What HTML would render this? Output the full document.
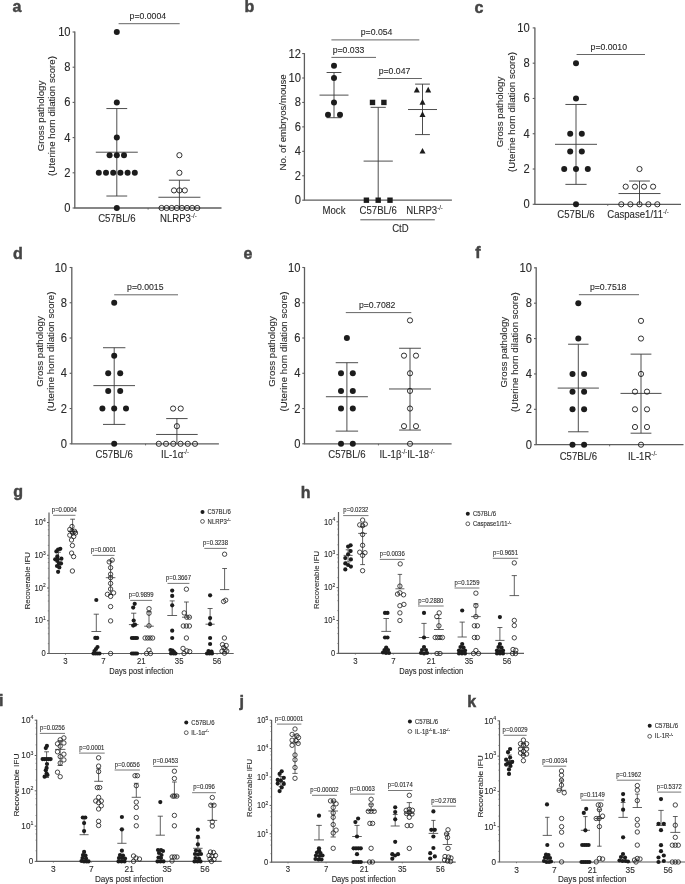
<!DOCTYPE html>
<html><head><meta charset="utf-8"><style>
html,body{margin:0;padding:0;background:#fff;}
body{width:685px;height:884px;overflow:hidden;}
svg{display:block;will-change:transform;}
svg{font-family:"Liberation Sans", sans-serif;} text{stroke:#2a2a2a;stroke-width:0.1px;} text[font-weight=bold]{stroke:#444;stroke-width:0.45px;}
</style></head><body>
<svg width="685" height="884" viewBox="0 0 685 884">
<rect width="685" height="884" fill="#fff"/>
<g fill="#2a2a2a">
<text x="12.6" y="12.3" font-size="16" font-weight="bold" fill="#444">a</text>
<line x1="74.8" y1="31.5" x2="74.8" y2="208" stroke="#5e5e5e" stroke-width="1.3"/>
<line x1="74.2" y1="208" x2="221.5" y2="208" stroke="#5e5e5e" stroke-width="1.3"/>
<line x1="72.6" y1="208" x2="74.8" y2="208" stroke="#5e5e5e" stroke-width="1.1"/>
<text x="0" y="0" font-size="11.2" text-anchor="end" transform="translate(70.6 212.03) scale(1 1.08)">0</text>
<line x1="72.6" y1="172.8" x2="74.8" y2="172.8" stroke="#5e5e5e" stroke-width="1.1"/>
<text x="0" y="0" font-size="11.2" text-anchor="end" transform="translate(70.6 176.83) scale(1 1.08)">2</text>
<line x1="72.6" y1="137.6" x2="74.8" y2="137.6" stroke="#5e5e5e" stroke-width="1.1"/>
<text x="0" y="0" font-size="11.2" text-anchor="end" transform="translate(70.6 141.63) scale(1 1.08)">4</text>
<line x1="72.6" y1="102.4" x2="74.8" y2="102.4" stroke="#5e5e5e" stroke-width="1.1"/>
<text x="0" y="0" font-size="11.2" text-anchor="end" transform="translate(70.6 106.43) scale(1 1.08)">6</text>
<line x1="72.6" y1="67.2" x2="74.8" y2="67.2" stroke="#5e5e5e" stroke-width="1.1"/>
<text x="0" y="0" font-size="11.2" text-anchor="end" transform="translate(70.6 71.23) scale(1 1.08)">8</text>
<line x1="72.6" y1="32" x2="74.8" y2="32" stroke="#5e5e5e" stroke-width="1.1"/>
<text x="0" y="0" font-size="11.2" text-anchor="end" transform="translate(70.6 36.03) scale(1 1.08)">10</text>
<text x="0" y="0" font-size="9" text-anchor="middle" transform="translate(44 116) scale(1 1.08) rotate(-90)">Gross pathology</text>
<text x="0" y="0" font-size="9" text-anchor="middle" transform="translate(55 116) scale(1 1.08) rotate(-90)">(Uterine horn dilation score)</text>
<line x1="116.8" y1="108.56" x2="116.8" y2="196.03" stroke="#3a3a3a" stroke-width="0.9"/>
<line x1="106.4" y1="108.56" x2="127.2" y2="108.56" stroke="#3a3a3a" stroke-width="0.9"/>
<line x1="106.4" y1="196.03" x2="127.2" y2="196.03" stroke="#3a3a3a" stroke-width="0.9"/>
<line x1="95.8" y1="152.21" x2="137.8" y2="152.21" stroke="#3a3a3a" stroke-width="0.9"/>
<line x1="179.4" y1="180.19" x2="179.4" y2="208" stroke="#3a3a3a" stroke-width="0.9"/>
<line x1="168.9" y1="180.19" x2="189.9" y2="180.19" stroke="#3a3a3a" stroke-width="0.9"/>
<line x1="158.4" y1="197.26" x2="200.4" y2="197.26" stroke="#3a3a3a" stroke-width="0.9"/>
<circle cx="116.8" cy="32" r="3" fill="#1c1c1c"/>
<circle cx="116.8" cy="102.4" r="3" fill="#1c1c1c"/>
<circle cx="116.8" cy="137.6" r="3" fill="#1c1c1c"/>
<circle cx="109.6" cy="155.2" r="3" fill="#1c1c1c"/>
<circle cx="116.8" cy="155.2" r="3" fill="#1c1c1c"/>
<circle cx="124" cy="155.2" r="3" fill="#1c1c1c"/>
<circle cx="98.8" cy="172.8" r="3" fill="#1c1c1c"/>
<circle cx="106" cy="172.8" r="3" fill="#1c1c1c"/>
<circle cx="113.2" cy="172.8" r="3" fill="#1c1c1c"/>
<circle cx="120.4" cy="172.8" r="3" fill="#1c1c1c"/>
<circle cx="127.6" cy="172.8" r="3" fill="#1c1c1c"/>
<circle cx="134.8" cy="172.8" r="3" fill="#1c1c1c"/>
<circle cx="116.8" cy="208" r="3" fill="#1c1c1c"/>
<circle cx="179.4" cy="155.2" r="2.6" fill="none" stroke="#1c1c1c" stroke-width="0.9"/>
<circle cx="179.4" cy="172.8" r="2.6" fill="none" stroke="#1c1c1c" stroke-width="0.9"/>
<circle cx="174" cy="190.4" r="2.6" fill="none" stroke="#1c1c1c" stroke-width="0.9"/>
<circle cx="179.4" cy="190.4" r="2.6" fill="none" stroke="#1c1c1c" stroke-width="0.9"/>
<circle cx="184.8" cy="190.4" r="2.6" fill="none" stroke="#1c1c1c" stroke-width="0.9"/>
<circle cx="161.55" cy="208" r="2.6" fill="none" stroke="#1c1c1c" stroke-width="0.9"/>
<circle cx="166.65" cy="208" r="2.6" fill="none" stroke="#1c1c1c" stroke-width="0.9"/>
<circle cx="171.75" cy="208" r="2.6" fill="none" stroke="#1c1c1c" stroke-width="0.9"/>
<circle cx="176.85" cy="208" r="2.6" fill="none" stroke="#1c1c1c" stroke-width="0.9"/>
<circle cx="181.95" cy="208" r="2.6" fill="none" stroke="#1c1c1c" stroke-width="0.9"/>
<circle cx="187.05" cy="208" r="2.6" fill="none" stroke="#1c1c1c" stroke-width="0.9"/>
<circle cx="192.15" cy="208" r="2.6" fill="none" stroke="#1c1c1c" stroke-width="0.9"/>
<circle cx="197.25" cy="208" r="2.6" fill="none" stroke="#1c1c1c" stroke-width="0.9"/>
<line x1="118.6" y1="23.7" x2="179.7" y2="23.7" stroke="#555" stroke-width="0.9"/>
<text x="0" y="0" font-size="8.7" text-anchor="middle" transform="translate(147.85 19.3) scale(1 1.08)">p=0.0004</text>
<text x="0" y="0" font-size="9.6" text-anchor="middle" transform="translate(116.8 221.5) scale(1 1.08)">C57BL/6</text>
<text x="0" y="0" font-size="9.6" transform="translate(160 221.5) scale(1 1.08)">NLRP3<tspan font-size="6.1" dy="-3.6">-/-</tspan></text>
<text x="244.6" y="12.1" font-size="16" font-weight="bold" fill="#444">b</text>
<line x1="304.4" y1="53.1" x2="304.4" y2="200.2" stroke="#5e5e5e" stroke-width="1.3"/>
<line x1="303.8" y1="200.2" x2="451.9" y2="200.2" stroke="#5e5e5e" stroke-width="1.3"/>
<line x1="302.2" y1="200.2" x2="304.4" y2="200.2" stroke="#5e5e5e" stroke-width="1.1"/>
<text x="0" y="0" font-size="11.2" text-anchor="end" transform="translate(300.9 204.23) scale(1 1.08)">0</text>
<line x1="302.2" y1="175.76" x2="304.4" y2="175.76" stroke="#5e5e5e" stroke-width="1.1"/>
<text x="0" y="0" font-size="11.2" text-anchor="end" transform="translate(300.9 179.79) scale(1 1.08)">2</text>
<line x1="302.2" y1="151.32" x2="304.4" y2="151.32" stroke="#5e5e5e" stroke-width="1.1"/>
<text x="0" y="0" font-size="11.2" text-anchor="end" transform="translate(300.9 155.35) scale(1 1.08)">4</text>
<line x1="302.2" y1="126.88" x2="304.4" y2="126.88" stroke="#5e5e5e" stroke-width="1.1"/>
<text x="0" y="0" font-size="11.2" text-anchor="end" transform="translate(300.9 130.91) scale(1 1.08)">6</text>
<line x1="302.2" y1="102.44" x2="304.4" y2="102.44" stroke="#5e5e5e" stroke-width="1.1"/>
<text x="0" y="0" font-size="11.2" text-anchor="end" transform="translate(300.9 106.47) scale(1 1.08)">8</text>
<line x1="302.2" y1="78" x2="304.4" y2="78" stroke="#5e5e5e" stroke-width="1.1"/>
<text x="0" y="0" font-size="11.2" text-anchor="end" transform="translate(300.9 82.03) scale(1 1.08)">10</text>
<line x1="302.2" y1="53.56" x2="304.4" y2="53.56" stroke="#5e5e5e" stroke-width="1.1"/>
<text x="0" y="0" font-size="11.2" text-anchor="end" transform="translate(300.9 57.59) scale(1 1.08)">12</text>
<text x="0" y="0" font-size="8.85" text-anchor="middle" transform="translate(286 122.4) scale(1 1.08) rotate(-90)">No. of embryos/mouse</text>
<line x1="334" y1="72.5" x2="334" y2="117.71" stroke="#3a3a3a" stroke-width="0.9"/>
<line x1="326.6" y1="72.5" x2="341.4" y2="72.5" stroke="#3a3a3a" stroke-width="0.9"/>
<line x1="326.6" y1="117.71" x2="341.4" y2="117.71" stroke="#3a3a3a" stroke-width="0.9"/>
<line x1="319.5" y1="95.11" x2="348.5" y2="95.11" stroke="#3a3a3a" stroke-width="0.9"/>
<line x1="378.2" y1="107.33" x2="378.2" y2="200.2" stroke="#3a3a3a" stroke-width="0.9"/>
<line x1="370.6" y1="107.33" x2="385.8" y2="107.33" stroke="#3a3a3a" stroke-width="0.9"/>
<line x1="363.6" y1="161.1" x2="392.8" y2="161.1" stroke="#3a3a3a" stroke-width="0.9"/>
<line x1="422.5" y1="84.11" x2="422.5" y2="134.58" stroke="#3a3a3a" stroke-width="0.9"/>
<line x1="415.1" y1="84.11" x2="429.9" y2="84.11" stroke="#3a3a3a" stroke-width="0.9"/>
<line x1="415.1" y1="134.58" x2="429.9" y2="134.58" stroke="#3a3a3a" stroke-width="0.9"/>
<line x1="408" y1="109.53" x2="437" y2="109.53" stroke="#3a3a3a" stroke-width="0.9"/>
<circle cx="334" cy="65.78" r="3" fill="#1c1c1c"/>
<circle cx="334" cy="78" r="3" fill="#1c1c1c"/>
<circle cx="334" cy="102.44" r="3" fill="#1c1c1c"/>
<circle cx="328" cy="114.66" r="3" fill="#1c1c1c"/>
<circle cx="340" cy="114.66" r="3" fill="#1c1c1c"/>
<rect x="369.8" y="99.74" width="5.4" height="5.4" fill="#1c1c1c"/>
<rect x="381.2" y="99.74" width="5.4" height="5.4" fill="#1c1c1c"/>
<rect x="363.7" y="197.5" width="5.4" height="5.4" fill="#1c1c1c"/>
<rect x="375.5" y="197.5" width="5.4" height="5.4" fill="#1c1c1c"/>
<rect x="387.3" y="197.5" width="5.4" height="5.4" fill="#1c1c1c"/>
<polygon points="416.8,86.8 413.8,92.5 419.8,92.5" fill="#1c1c1c"/>
<polygon points="428.2,86.8 425.2,92.5 431.2,92.5" fill="#1c1c1c"/>
<polygon points="422.5,99.02 419.5,104.72 425.5,104.72" fill="#1c1c1c"/>
<polygon points="422.5,111.24 419.5,116.94 425.5,116.94" fill="#1c1c1c"/>
<polygon points="422.5,147.9 419.5,153.6 425.5,153.6" fill="#1c1c1c"/>
<line x1="331.4" y1="39.9" x2="419.3" y2="39.9" stroke="#555" stroke-width="0.9"/>
<text x="0" y="0" font-size="8.7" text-anchor="middle" transform="translate(376.6 35) scale(1 1.08)">p=0.054</text>
<line x1="331.4" y1="57.4" x2="376" y2="57.4" stroke="#555" stroke-width="0.9"/>
<text x="0" y="0" font-size="8.7" text-anchor="middle" transform="translate(348.5 52.6) scale(1 1.08)">p=0.033</text>
<line x1="377.5" y1="78.5" x2="421.9" y2="78.5" stroke="#555" stroke-width="0.9"/>
<text x="0" y="0" font-size="8.7" text-anchor="middle" transform="translate(394.5 73.7) scale(1 1.08)">p=0.047</text>
<text x="0" y="0" font-size="9.6" text-anchor="middle" transform="translate(334 214.3) scale(1 1.08)">Mock</text>
<text x="0" y="0" font-size="9.6" text-anchor="middle" transform="translate(378.2 214.3) scale(1 1.08)">C57BL/6</text>
<text x="0" y="0" font-size="9.6" transform="translate(406.2 214.3) scale(1 1.08)">NLRP3<tspan font-size="6.1" dy="-3.6">-/-</tspan></text>
<line x1="360.3" y1="219.8" x2="434.8" y2="219.8" stroke="#444" stroke-width="0.9"/>
<text x="0" y="0" font-size="9.6" text-anchor="middle" transform="translate(400.4 232.2) scale(1 1.08)">CtD</text>
<text x="474.4" y="12.5" font-size="16" font-weight="bold" fill="#444">c</text>
<line x1="534.9" y1="27.4" x2="534.9" y2="204.3" stroke="#5e5e5e" stroke-width="1.3"/>
<line x1="534.3" y1="204.3" x2="681" y2="204.3" stroke="#5e5e5e" stroke-width="1.3"/>
<line x1="532.7" y1="204.3" x2="534.9" y2="204.3" stroke="#5e5e5e" stroke-width="1.1"/>
<text x="0" y="0" font-size="11.2" text-anchor="end" transform="translate(529.8 208.33) scale(1 1.08)">0</text>
<line x1="532.7" y1="169.02" x2="534.9" y2="169.02" stroke="#5e5e5e" stroke-width="1.1"/>
<text x="0" y="0" font-size="11.2" text-anchor="end" transform="translate(529.8 173.05) scale(1 1.08)">2</text>
<line x1="532.7" y1="133.74" x2="534.9" y2="133.74" stroke="#5e5e5e" stroke-width="1.1"/>
<text x="0" y="0" font-size="11.2" text-anchor="end" transform="translate(529.8 137.77) scale(1 1.08)">4</text>
<line x1="532.7" y1="98.46" x2="534.9" y2="98.46" stroke="#5e5e5e" stroke-width="1.1"/>
<text x="0" y="0" font-size="11.2" text-anchor="end" transform="translate(529.8 102.49) scale(1 1.08)">6</text>
<line x1="532.7" y1="63.18" x2="534.9" y2="63.18" stroke="#5e5e5e" stroke-width="1.1"/>
<text x="0" y="0" font-size="11.2" text-anchor="end" transform="translate(529.8 67.21) scale(1 1.08)">8</text>
<line x1="532.7" y1="27.9" x2="534.9" y2="27.9" stroke="#5e5e5e" stroke-width="1.1"/>
<text x="0" y="0" font-size="11.2" text-anchor="end" transform="translate(529.8 31.93) scale(1 1.08)">10</text>
<text x="0" y="0" font-size="9" text-anchor="middle" transform="translate(503 112) scale(1 1.08) rotate(-90)">Gross pathology</text>
<text x="0" y="0" font-size="9" text-anchor="middle" transform="translate(515 112) scale(1 1.08) rotate(-90)">(Uterine horn dilation score)</text>
<line x1="576" y1="104.46" x2="576" y2="184.37" stroke="#3a3a3a" stroke-width="0.9"/>
<line x1="565.4" y1="104.46" x2="586.6" y2="104.46" stroke="#3a3a3a" stroke-width="0.9"/>
<line x1="565.4" y1="184.37" x2="586.6" y2="184.37" stroke="#3a3a3a" stroke-width="0.9"/>
<line x1="555" y1="144.32" x2="597" y2="144.32" stroke="#3a3a3a" stroke-width="0.9"/>
<line x1="639.5" y1="181.02" x2="639.5" y2="204.3" stroke="#3a3a3a" stroke-width="0.9"/>
<line x1="629.1" y1="181.02" x2="649.9" y2="181.02" stroke="#3a3a3a" stroke-width="0.9"/>
<line x1="618.5" y1="193.54" x2="660.5" y2="193.54" stroke="#3a3a3a" stroke-width="0.9"/>
<circle cx="576" cy="63.18" r="3" fill="#1c1c1c"/>
<circle cx="576" cy="98.46" r="3" fill="#1c1c1c"/>
<circle cx="570.2" cy="133.74" r="3" fill="#1c1c1c"/>
<circle cx="581.8" cy="133.74" r="3" fill="#1c1c1c"/>
<circle cx="570.2" cy="151.38" r="3" fill="#1c1c1c"/>
<circle cx="581.8" cy="151.38" r="3" fill="#1c1c1c"/>
<circle cx="564.2" cy="169.02" r="3" fill="#1c1c1c"/>
<circle cx="576" cy="169.02" r="3" fill="#1c1c1c"/>
<circle cx="587.8" cy="169.02" r="3" fill="#1c1c1c"/>
<circle cx="576" cy="204.3" r="3" fill="#1c1c1c"/>
<circle cx="639.5" cy="169.02" r="2.6" fill="none" stroke="#1c1c1c" stroke-width="0.9"/>
<circle cx="625.7" cy="186.66" r="2.6" fill="none" stroke="#1c1c1c" stroke-width="0.9"/>
<circle cx="635" cy="186.66" r="2.6" fill="none" stroke="#1c1c1c" stroke-width="0.9"/>
<circle cx="644" cy="186.66" r="2.6" fill="none" stroke="#1c1c1c" stroke-width="0.9"/>
<circle cx="653.1" cy="186.66" r="2.6" fill="none" stroke="#1c1c1c" stroke-width="0.9"/>
<circle cx="621.3" cy="204.3" r="2.6" fill="none" stroke="#1c1c1c" stroke-width="0.9"/>
<circle cx="630.4" cy="204.3" r="2.6" fill="none" stroke="#1c1c1c" stroke-width="0.9"/>
<circle cx="639.5" cy="204.3" r="2.6" fill="none" stroke="#1c1c1c" stroke-width="0.9"/>
<circle cx="648.4" cy="204.3" r="2.6" fill="none" stroke="#1c1c1c" stroke-width="0.9"/>
<circle cx="657.3" cy="204.3" r="2.6" fill="none" stroke="#1c1c1c" stroke-width="0.9"/>
<line x1="576.6" y1="54.5" x2="645" y2="54.5" stroke="#555" stroke-width="0.9"/>
<text x="0" y="0" font-size="8.7" text-anchor="middle" transform="translate(608.8 50.1) scale(1 1.08)">p=0.0010</text>
<text x="0" y="0" font-size="9.6" text-anchor="middle" transform="translate(576 217.5) scale(1 1.08)">C57BL/6</text>
<text x="0" y="0" font-size="9.6" transform="translate(607.2 217.5) scale(1 1.08)">Caspase1/11<tspan font-size="6.1" dy="-3.6">-/-</tspan></text>
<text x="12.9" y="258.5" font-size="16" font-weight="bold" fill="#444">d</text>
<line x1="71.8" y1="267.1" x2="71.8" y2="443.8" stroke="#5e5e5e" stroke-width="1.3"/>
<line x1="71.2" y1="443.8" x2="218.9" y2="443.8" stroke="#5e5e5e" stroke-width="1.3"/>
<line x1="69.6" y1="443.8" x2="71.8" y2="443.8" stroke="#5e5e5e" stroke-width="1.1"/>
<text x="0" y="0" font-size="11.2" text-anchor="end" transform="translate(67.1 447.83) scale(1 1.08)">0</text>
<line x1="69.6" y1="408.54" x2="71.8" y2="408.54" stroke="#5e5e5e" stroke-width="1.1"/>
<text x="0" y="0" font-size="11.2" text-anchor="end" transform="translate(67.1 412.57) scale(1 1.08)">2</text>
<line x1="69.6" y1="373.28" x2="71.8" y2="373.28" stroke="#5e5e5e" stroke-width="1.1"/>
<text x="0" y="0" font-size="11.2" text-anchor="end" transform="translate(67.1 377.31) scale(1 1.08)">4</text>
<line x1="69.6" y1="338.02" x2="71.8" y2="338.02" stroke="#5e5e5e" stroke-width="1.1"/>
<text x="0" y="0" font-size="11.2" text-anchor="end" transform="translate(67.1 342.05) scale(1 1.08)">6</text>
<line x1="69.6" y1="302.76" x2="71.8" y2="302.76" stroke="#5e5e5e" stroke-width="1.1"/>
<text x="0" y="0" font-size="11.2" text-anchor="end" transform="translate(67.1 306.79) scale(1 1.08)">8</text>
<line x1="69.6" y1="267.5" x2="71.8" y2="267.5" stroke="#5e5e5e" stroke-width="1.1"/>
<text x="0" y="0" font-size="11.2" text-anchor="end" transform="translate(67.1 271.53) scale(1 1.08)">10</text>
<text x="0" y="0" font-size="9" text-anchor="middle" transform="translate(42.6 351.5) scale(1 1.08) rotate(-90)">Gross pathology</text>
<text x="0" y="0" font-size="9" text-anchor="middle" transform="translate(54.3 351.5) scale(1 1.08) rotate(-90)">(Uterine horn dilation score)</text>
<line x1="114.2" y1="347.72" x2="114.2" y2="424.41" stroke="#3a3a3a" stroke-width="0.9"/>
<line x1="103" y1="347.72" x2="125.4" y2="347.72" stroke="#3a3a3a" stroke-width="0.9"/>
<line x1="103" y1="424.41" x2="125.4" y2="424.41" stroke="#3a3a3a" stroke-width="0.9"/>
<line x1="93.4" y1="385.62" x2="135" y2="385.62" stroke="#3a3a3a" stroke-width="0.9"/>
<line x1="176.9" y1="418.59" x2="176.9" y2="443.8" stroke="#3a3a3a" stroke-width="0.9"/>
<line x1="166.2" y1="418.59" x2="187.6" y2="418.59" stroke="#3a3a3a" stroke-width="0.9"/>
<line x1="156.1" y1="434.46" x2="197.7" y2="434.46" stroke="#3a3a3a" stroke-width="0.9"/>
<circle cx="114.2" cy="302.76" r="3" fill="#1c1c1c"/>
<circle cx="114.2" cy="355.65" r="3" fill="#1c1c1c"/>
<circle cx="108.2" cy="373.28" r="3" fill="#1c1c1c"/>
<circle cx="120.2" cy="373.28" r="3" fill="#1c1c1c"/>
<circle cx="108.2" cy="390.91" r="3" fill="#1c1c1c"/>
<circle cx="120.2" cy="390.91" r="3" fill="#1c1c1c"/>
<circle cx="102.4" cy="408.54" r="3" fill="#1c1c1c"/>
<circle cx="114.2" cy="408.54" r="3" fill="#1c1c1c"/>
<circle cx="126" cy="408.54" r="3" fill="#1c1c1c"/>
<circle cx="114.2" cy="443.8" r="3" fill="#1c1c1c"/>
<circle cx="173.1" cy="408.54" r="2.6" fill="none" stroke="#1c1c1c" stroke-width="0.9"/>
<circle cx="180.7" cy="408.54" r="2.6" fill="none" stroke="#1c1c1c" stroke-width="0.9"/>
<circle cx="176.9" cy="426.17" r="2.6" fill="none" stroke="#1c1c1c" stroke-width="0.9"/>
<circle cx="158.8" cy="443.8" r="2.6" fill="none" stroke="#1c1c1c" stroke-width="0.9"/>
<circle cx="166.04" cy="443.8" r="2.6" fill="none" stroke="#1c1c1c" stroke-width="0.9"/>
<circle cx="173.28" cy="443.8" r="2.6" fill="none" stroke="#1c1c1c" stroke-width="0.9"/>
<circle cx="180.52" cy="443.8" r="2.6" fill="none" stroke="#1c1c1c" stroke-width="0.9"/>
<circle cx="187.76" cy="443.8" r="2.6" fill="none" stroke="#1c1c1c" stroke-width="0.9"/>
<circle cx="195" cy="443.8" r="2.6" fill="none" stroke="#1c1c1c" stroke-width="0.9"/>
<line x1="114.2" y1="294.8" x2="178" y2="294.8" stroke="#555" stroke-width="0.9"/>
<text x="0" y="0" font-size="8.7" text-anchor="middle" transform="translate(145.3 290.4) scale(1 1.08)">p=0.0015</text>
<text x="0" y="0" font-size="9.6" text-anchor="middle" transform="translate(114.2 458.3) scale(1 1.08)">C57BL/6</text>
<text x="0" y="0" font-size="9.6" transform="translate(161.1 458.3) scale(1 1.08)">IL-1α<tspan font-size="6.1" dy="-3.6">-/-</tspan></text>
<text x="243.6" y="258.5" font-size="16" font-weight="bold" fill="#444">e</text>
<line x1="304.5" y1="267.1" x2="304.5" y2="443.8" stroke="#5e5e5e" stroke-width="1.3"/>
<line x1="303.9" y1="443.8" x2="451.6" y2="443.8" stroke="#5e5e5e" stroke-width="1.3"/>
<line x1="302.3" y1="443.8" x2="304.5" y2="443.8" stroke="#5e5e5e" stroke-width="1.1"/>
<text x="0" y="0" font-size="11.2" text-anchor="end" transform="translate(300.5 447.83) scale(1 1.08)">0</text>
<line x1="302.3" y1="408.54" x2="304.5" y2="408.54" stroke="#5e5e5e" stroke-width="1.1"/>
<text x="0" y="0" font-size="11.2" text-anchor="end" transform="translate(300.5 412.57) scale(1 1.08)">2</text>
<line x1="302.3" y1="373.28" x2="304.5" y2="373.28" stroke="#5e5e5e" stroke-width="1.1"/>
<text x="0" y="0" font-size="11.2" text-anchor="end" transform="translate(300.5 377.31) scale(1 1.08)">4</text>
<line x1="302.3" y1="338.02" x2="304.5" y2="338.02" stroke="#5e5e5e" stroke-width="1.1"/>
<text x="0" y="0" font-size="11.2" text-anchor="end" transform="translate(300.5 342.05) scale(1 1.08)">6</text>
<line x1="302.3" y1="302.76" x2="304.5" y2="302.76" stroke="#5e5e5e" stroke-width="1.1"/>
<text x="0" y="0" font-size="11.2" text-anchor="end" transform="translate(300.5 306.79) scale(1 1.08)">8</text>
<line x1="302.3" y1="267.5" x2="304.5" y2="267.5" stroke="#5e5e5e" stroke-width="1.1"/>
<text x="0" y="0" font-size="11.2" text-anchor="end" transform="translate(300.5 271.53) scale(1 1.08)">10</text>
<text x="0" y="0" font-size="9" text-anchor="middle" transform="translate(275 351.5) scale(1 1.08) rotate(-90)">Gross pathology</text>
<text x="0" y="0" font-size="9" text-anchor="middle" transform="translate(286.8 351.5) scale(1 1.08) rotate(-90)">(Uterine horn dilation score)</text>
<line x1="346.9" y1="362.7" x2="346.9" y2="431.11" stroke="#3a3a3a" stroke-width="0.9"/>
<line x1="335.7" y1="362.7" x2="358.1" y2="362.7" stroke="#3a3a3a" stroke-width="0.9"/>
<line x1="335.7" y1="431.11" x2="358.1" y2="431.11" stroke="#3a3a3a" stroke-width="0.9"/>
<line x1="325.9" y1="396.73" x2="367.9" y2="396.73" stroke="#3a3a3a" stroke-width="0.9"/>
<line x1="410" y1="348.25" x2="410" y2="430.05" stroke="#3a3a3a" stroke-width="0.9"/>
<line x1="399.1" y1="348.25" x2="420.9" y2="348.25" stroke="#3a3a3a" stroke-width="0.9"/>
<line x1="399.1" y1="430.05" x2="420.9" y2="430.05" stroke="#3a3a3a" stroke-width="0.9"/>
<line x1="389" y1="388.97" x2="431" y2="388.97" stroke="#3a3a3a" stroke-width="0.9"/>
<circle cx="346.9" cy="338.02" r="3" fill="#1c1c1c"/>
<circle cx="341" cy="373.28" r="3" fill="#1c1c1c"/>
<circle cx="352.8" cy="373.28" r="3" fill="#1c1c1c"/>
<circle cx="341" cy="390.91" r="3" fill="#1c1c1c"/>
<circle cx="352.8" cy="390.91" r="3" fill="#1c1c1c"/>
<circle cx="341" cy="408.54" r="3" fill="#1c1c1c"/>
<circle cx="352.8" cy="408.54" r="3" fill="#1c1c1c"/>
<circle cx="341" cy="443.8" r="3" fill="#1c1c1c"/>
<circle cx="352.8" cy="443.8" r="3" fill="#1c1c1c"/>
<circle cx="410" cy="320.39" r="2.6" fill="none" stroke="#1c1c1c" stroke-width="0.9"/>
<circle cx="404" cy="355.65" r="2.6" fill="none" stroke="#1c1c1c" stroke-width="0.9"/>
<circle cx="416" cy="355.65" r="2.6" fill="none" stroke="#1c1c1c" stroke-width="0.9"/>
<circle cx="410" cy="373.28" r="2.6" fill="none" stroke="#1c1c1c" stroke-width="0.9"/>
<circle cx="410" cy="390.91" r="2.6" fill="none" stroke="#1c1c1c" stroke-width="0.9"/>
<circle cx="410" cy="408.54" r="2.6" fill="none" stroke="#1c1c1c" stroke-width="0.9"/>
<circle cx="404" cy="426.17" r="2.6" fill="none" stroke="#1c1c1c" stroke-width="0.9"/>
<circle cx="416" cy="426.17" r="2.6" fill="none" stroke="#1c1c1c" stroke-width="0.9"/>
<circle cx="410" cy="443.8" r="2.6" fill="none" stroke="#1c1c1c" stroke-width="0.9"/>
<line x1="345.8" y1="312.6" x2="411.3" y2="312.6" stroke="#555" stroke-width="0.9"/>
<text x="0" y="0" font-size="8.7" text-anchor="middle" transform="translate(377.15 308.2) scale(1 1.08)">p=0.7082</text>
<text x="0" y="0" font-size="9.6" text-anchor="middle" transform="translate(346.9 458.3) scale(1 1.08)">C57BL/6</text>
<text x="0" y="0" font-size="9.6" transform="translate(379.4 458.3) scale(1 1.08)">IL-1β<tspan font-size="6.1" dy="-3.6">-/-</tspan><tspan dy="3.6">IL-18</tspan><tspan font-size="6.1" dy="-3.6">-/-</tspan></text>
<text x="475.2" y="257.9" font-size="16" font-weight="bold" fill="#444">f</text>
<line x1="536.2" y1="267.3" x2="536.2" y2="444.7" stroke="#5e5e5e" stroke-width="1.3"/>
<line x1="535.6" y1="444.7" x2="683.5" y2="444.7" stroke="#5e5e5e" stroke-width="1.3"/>
<line x1="534" y1="444.7" x2="536.2" y2="444.7" stroke="#5e5e5e" stroke-width="1.1"/>
<text x="0" y="0" font-size="11.2" text-anchor="end" transform="translate(532 448.73) scale(1 1.08)">0</text>
<line x1="534" y1="409.32" x2="536.2" y2="409.32" stroke="#5e5e5e" stroke-width="1.1"/>
<text x="0" y="0" font-size="11.2" text-anchor="end" transform="translate(532 413.35) scale(1 1.08)">2</text>
<line x1="534" y1="373.94" x2="536.2" y2="373.94" stroke="#5e5e5e" stroke-width="1.1"/>
<text x="0" y="0" font-size="11.2" text-anchor="end" transform="translate(532 377.97) scale(1 1.08)">4</text>
<line x1="534" y1="338.56" x2="536.2" y2="338.56" stroke="#5e5e5e" stroke-width="1.1"/>
<text x="0" y="0" font-size="11.2" text-anchor="end" transform="translate(532 342.59) scale(1 1.08)">6</text>
<line x1="534" y1="303.18" x2="536.2" y2="303.18" stroke="#5e5e5e" stroke-width="1.1"/>
<text x="0" y="0" font-size="11.2" text-anchor="end" transform="translate(532 307.21) scale(1 1.08)">8</text>
<line x1="534" y1="267.8" x2="536.2" y2="267.8" stroke="#5e5e5e" stroke-width="1.1"/>
<text x="0" y="0" font-size="11.2" text-anchor="end" transform="translate(532 271.83) scale(1 1.08)">10</text>
<text x="0" y="0" font-size="9" text-anchor="middle" transform="translate(506.5 352.2) scale(1 1.08) rotate(-90)">Gross pathology</text>
<text x="0" y="0" font-size="9" text-anchor="middle" transform="translate(518.3 352.2) scale(1 1.08) rotate(-90)">(Uterine horn dilation score)</text>
<line x1="578.3" y1="344.22" x2="578.3" y2="431.79" stroke="#3a3a3a" stroke-width="0.9"/>
<line x1="568.1" y1="344.22" x2="588.5" y2="344.22" stroke="#3a3a3a" stroke-width="0.9"/>
<line x1="568.1" y1="431.79" x2="588.5" y2="431.79" stroke="#3a3a3a" stroke-width="0.9"/>
<line x1="557.7" y1="388.09" x2="598.9" y2="388.09" stroke="#3a3a3a" stroke-width="0.9"/>
<line x1="641" y1="354.13" x2="641" y2="433.2" stroke="#3a3a3a" stroke-width="0.9"/>
<line x1="630.6" y1="354.13" x2="651.4" y2="354.13" stroke="#3a3a3a" stroke-width="0.9"/>
<line x1="630.6" y1="433.2" x2="651.4" y2="433.2" stroke="#3a3a3a" stroke-width="0.9"/>
<line x1="620.5" y1="393.4" x2="661.5" y2="393.4" stroke="#3a3a3a" stroke-width="0.9"/>
<circle cx="578.3" cy="303.18" r="3" fill="#1c1c1c"/>
<circle cx="578.3" cy="338.56" r="3" fill="#1c1c1c"/>
<circle cx="572.5" cy="373.94" r="3" fill="#1c1c1c"/>
<circle cx="584.1" cy="373.94" r="3" fill="#1c1c1c"/>
<circle cx="572.5" cy="391.63" r="3" fill="#1c1c1c"/>
<circle cx="584.1" cy="391.63" r="3" fill="#1c1c1c"/>
<circle cx="572.5" cy="409.32" r="3" fill="#1c1c1c"/>
<circle cx="584.1" cy="409.32" r="3" fill="#1c1c1c"/>
<circle cx="572.5" cy="444.7" r="3" fill="#1c1c1c"/>
<circle cx="584.1" cy="444.7" r="3" fill="#1c1c1c"/>
<circle cx="641" cy="320.87" r="2.6" fill="none" stroke="#1c1c1c" stroke-width="0.9"/>
<circle cx="641" cy="338.56" r="2.6" fill="none" stroke="#1c1c1c" stroke-width="0.9"/>
<circle cx="641" cy="373.94" r="2.6" fill="none" stroke="#1c1c1c" stroke-width="0.9"/>
<circle cx="635" cy="391.63" r="2.6" fill="none" stroke="#1c1c1c" stroke-width="0.9"/>
<circle cx="647" cy="391.63" r="2.6" fill="none" stroke="#1c1c1c" stroke-width="0.9"/>
<circle cx="635" cy="409.32" r="2.6" fill="none" stroke="#1c1c1c" stroke-width="0.9"/>
<circle cx="647" cy="409.32" r="2.6" fill="none" stroke="#1c1c1c" stroke-width="0.9"/>
<circle cx="635" cy="427.01" r="2.6" fill="none" stroke="#1c1c1c" stroke-width="0.9"/>
<circle cx="647" cy="427.01" r="2.6" fill="none" stroke="#1c1c1c" stroke-width="0.9"/>
<circle cx="641" cy="444.7" r="2.6" fill="none" stroke="#1c1c1c" stroke-width="0.9"/>
<line x1="578.9" y1="294.7" x2="639" y2="294.7" stroke="#555" stroke-width="0.9"/>
<text x="0" y="0" font-size="8.7" text-anchor="middle" transform="translate(608.15 290.3) scale(1 1.08)">p=0.7518</text>
<text x="0" y="0" font-size="9.6" text-anchor="middle" transform="translate(578.3 459.6) scale(1 1.08)">C57BL/6</text>
<text x="0" y="0" font-size="9.6" text-anchor="middle" transform="translate(642.5 459.6) scale(1 1.08)">IL-1R<tspan font-size="6.1" dy="-3.6">-/-</tspan></text>
<line x1="148.1" y1="208" x2="148.1" y2="209.6" stroke="#5e5e5e" stroke-width="0.9"/>
<line x1="607.75" y1="204.3" x2="607.75" y2="205.9" stroke="#5e5e5e" stroke-width="0.9"/>
<line x1="145.55" y1="443.8" x2="145.55" y2="445.4" stroke="#5e5e5e" stroke-width="0.9"/>
<line x1="378.45" y1="443.8" x2="378.45" y2="445.4" stroke="#5e5e5e" stroke-width="0.9"/>
<line x1="609.65" y1="444.7" x2="609.65" y2="446.3" stroke="#5e5e5e" stroke-width="0.9"/>
<line x1="49" y1="512.5" x2="49" y2="653.5" stroke="#5e5e5e" stroke-width="1.2"/>
<line x1="48.4" y1="653.5" x2="233.7" y2="653.5" stroke="#5e5e5e" stroke-width="1.2"/>
<line x1="47" y1="653.5" x2="49" y2="653.5" stroke="#5e5e5e" stroke-width="1"/>
<text x="0" y="0" font-size="7.6" text-anchor="end" transform="translate(45.6 656.24) scale(1 1.08)">0</text>
<line x1="47" y1="620.75" x2="49" y2="620.75" stroke="#5e5e5e" stroke-width="1"/>
<text x="0" y="0" font-size="7.6" text-anchor="end" transform="translate(45.6 623.49) scale(1 1.08)">10<tspan font-size="4.86" dy="-3.19">1</tspan></text>
<line x1="47" y1="588" x2="49" y2="588" stroke="#5e5e5e" stroke-width="1"/>
<text x="0" y="0" font-size="7.6" text-anchor="end" transform="translate(45.6 590.74) scale(1 1.08)">10<tspan font-size="4.86" dy="-3.19">2</tspan></text>
<line x1="47" y1="555.25" x2="49" y2="555.25" stroke="#5e5e5e" stroke-width="1"/>
<text x="0" y="0" font-size="7.6" text-anchor="end" transform="translate(45.6 557.99) scale(1 1.08)">10<tspan font-size="4.86" dy="-3.19">3</tspan></text>
<line x1="47" y1="522.5" x2="49" y2="522.5" stroke="#5e5e5e" stroke-width="1"/>
<text x="0" y="0" font-size="7.6" text-anchor="end" transform="translate(45.6 525.24) scale(1 1.08)">10<tspan font-size="4.86" dy="-3.19">4</tspan></text>
<line x1="47.8" y1="643.64" x2="49" y2="643.64" stroke="#5e5e5e" stroke-width="0.6"/>
<line x1="47.8" y1="633.78" x2="49" y2="633.78" stroke="#5e5e5e" stroke-width="0.6"/>
<line x1="47.8" y1="628.02" x2="49" y2="628.02" stroke="#5e5e5e" stroke-width="0.6"/>
<line x1="47.8" y1="623.92" x2="49" y2="623.92" stroke="#5e5e5e" stroke-width="0.6"/>
<line x1="47.8" y1="610.89" x2="49" y2="610.89" stroke="#5e5e5e" stroke-width="0.6"/>
<line x1="47.8" y1="601.03" x2="49" y2="601.03" stroke="#5e5e5e" stroke-width="0.6"/>
<line x1="47.8" y1="595.27" x2="49" y2="595.27" stroke="#5e5e5e" stroke-width="0.6"/>
<line x1="47.8" y1="591.17" x2="49" y2="591.17" stroke="#5e5e5e" stroke-width="0.6"/>
<line x1="47.8" y1="578.14" x2="49" y2="578.14" stroke="#5e5e5e" stroke-width="0.6"/>
<line x1="47.8" y1="568.28" x2="49" y2="568.28" stroke="#5e5e5e" stroke-width="0.6"/>
<line x1="47.8" y1="562.52" x2="49" y2="562.52" stroke="#5e5e5e" stroke-width="0.6"/>
<line x1="47.8" y1="558.42" x2="49" y2="558.42" stroke="#5e5e5e" stroke-width="0.6"/>
<line x1="47.8" y1="545.39" x2="49" y2="545.39" stroke="#5e5e5e" stroke-width="0.6"/>
<line x1="47.8" y1="535.53" x2="49" y2="535.53" stroke="#5e5e5e" stroke-width="0.6"/>
<line x1="47.8" y1="529.77" x2="49" y2="529.77" stroke="#5e5e5e" stroke-width="0.6"/>
<line x1="47.8" y1="525.67" x2="49" y2="525.67" stroke="#5e5e5e" stroke-width="0.6"/>
<line x1="65.5" y1="653.5" x2="65.5" y2="654.7" stroke="#5e5e5e" stroke-width="0.8"/>
<text x="0" y="0" font-size="7.8" text-anchor="middle" transform="translate(65.5 664.3) scale(1 1.08)">3</text>
<line x1="103.4" y1="653.5" x2="103.4" y2="654.7" stroke="#5e5e5e" stroke-width="0.8"/>
<text x="0" y="0" font-size="7.8" text-anchor="middle" transform="translate(103.4 664.3) scale(1 1.08)">7</text>
<line x1="141.3" y1="653.5" x2="141.3" y2="654.7" stroke="#5e5e5e" stroke-width="0.8"/>
<text x="0" y="0" font-size="7.8" text-anchor="middle" transform="translate(141.3 664.3) scale(1 1.08)">21</text>
<line x1="179.2" y1="653.5" x2="179.2" y2="654.7" stroke="#5e5e5e" stroke-width="0.8"/>
<text x="0" y="0" font-size="7.8" text-anchor="middle" transform="translate(179.2 664.3) scale(1 1.08)">35</text>
<line x1="217.1" y1="653.5" x2="217.1" y2="654.7" stroke="#5e5e5e" stroke-width="0.8"/>
<text x="0" y="0" font-size="7.8" text-anchor="middle" transform="translate(217.1 664.3) scale(1 1.08)">56</text>
<text x="0" y="0" font-size="7.6" text-anchor="middle" transform="translate(141.35 674) scale(1 1.08)">Days post infection</text>
<text x="0" y="0" font-size="7.04" text-anchor="middle" transform="translate(29.8 580.7) scale(1 1.08) rotate(-90)">Recoverable IFU</text>
<circle cx="202.5" cy="512" r="2" fill="#1c1c1c"/>
<circle cx="202.5" cy="521.4" r="1.9" fill="none" stroke="#1c1c1c" stroke-width="0.7"/>
<text x="0" y="0" font-size="5.95" transform="translate(207.6 514.1) scale(1 1.08)">C57BL/6</text>
<text x="0" y="0" font-size="5.95" transform="translate(207.6 523.5) scale(1 1.08)">NLRP3<tspan font-size="4" dy="-2.2">-/-</tspan></text>
<line x1="58.4" y1="552.3" x2="58.4" y2="566" stroke="#3a3a3a" stroke-width="0.8"/>
<line x1="56" y1="552.3" x2="60.8" y2="552.3" stroke="#3a3a3a" stroke-width="0.8"/>
<line x1="53.8" y1="559.5" x2="63" y2="559.5" stroke="#3a3a3a" stroke-width="0.8"/>
<line x1="56" y1="566" x2="60.8" y2="566" stroke="#3a3a3a" stroke-width="0.8"/>
<line x1="72.6" y1="519.2" x2="72.6" y2="531.5" stroke="#3a3a3a" stroke-width="0.8"/>
<line x1="70.2" y1="519.2" x2="75" y2="519.2" stroke="#3a3a3a" stroke-width="0.8"/>
<line x1="68" y1="531.5" x2="77.2" y2="531.5" stroke="#3a3a3a" stroke-width="0.8"/>
<line x1="96.3" y1="614.2" x2="96.3" y2="631.5" stroke="#3a3a3a" stroke-width="0.8"/>
<line x1="93.7" y1="614.2" x2="98.9" y2="614.2" stroke="#3a3a3a" stroke-width="0.8"/>
<line x1="91.4" y1="631.5" x2="101.2" y2="631.5" stroke="#3a3a3a" stroke-width="0.8"/>
<line x1="110.6" y1="561" x2="110.6" y2="594.5" stroke="#3a3a3a" stroke-width="0.8"/>
<line x1="108.2" y1="561" x2="113" y2="561" stroke="#3a3a3a" stroke-width="0.8"/>
<line x1="105.8" y1="577.7" x2="115.4" y2="577.7" stroke="#3a3a3a" stroke-width="0.8"/>
<line x1="108.2" y1="594.5" x2="113" y2="594.5" stroke="#3a3a3a" stroke-width="0.8"/>
<line x1="133.7" y1="613.2" x2="133.7" y2="624.6" stroke="#3a3a3a" stroke-width="0.8"/>
<line x1="131.1" y1="613.2" x2="136.3" y2="613.2" stroke="#3a3a3a" stroke-width="0.8"/>
<line x1="128.9" y1="624.6" x2="138.5" y2="624.6" stroke="#3a3a3a" stroke-width="0.8"/>
<line x1="149" y1="611.8" x2="149" y2="626.2" stroke="#3a3a3a" stroke-width="0.8"/>
<line x1="146.4" y1="611.8" x2="151.6" y2="611.8" stroke="#3a3a3a" stroke-width="0.8"/>
<line x1="144.2" y1="626.2" x2="153.8" y2="626.2" stroke="#3a3a3a" stroke-width="0.8"/>
<line x1="172.2" y1="600.9" x2="172.2" y2="615.5" stroke="#3a3a3a" stroke-width="0.8"/>
<line x1="169.7" y1="600.9" x2="174.7" y2="600.9" stroke="#3a3a3a" stroke-width="0.8"/>
<line x1="167.3" y1="615.5" x2="177.1" y2="615.5" stroke="#3a3a3a" stroke-width="0.8"/>
<line x1="186.4" y1="602" x2="186.4" y2="617.2" stroke="#3a3a3a" stroke-width="0.8"/>
<line x1="184" y1="602" x2="188.8" y2="602" stroke="#3a3a3a" stroke-width="0.8"/>
<line x1="182" y1="617.2" x2="190.8" y2="617.2" stroke="#3a3a3a" stroke-width="0.8"/>
<line x1="210.1" y1="608.5" x2="210.1" y2="624.2" stroke="#3a3a3a" stroke-width="0.8"/>
<line x1="207.6" y1="608.5" x2="212.6" y2="608.5" stroke="#3a3a3a" stroke-width="0.8"/>
<line x1="205.5" y1="624.2" x2="214.7" y2="624.2" stroke="#3a3a3a" stroke-width="0.8"/>
<line x1="224.6" y1="568.5" x2="224.6" y2="589.6" stroke="#3a3a3a" stroke-width="0.8"/>
<line x1="222.2" y1="568.5" x2="227" y2="568.5" stroke="#3a3a3a" stroke-width="0.8"/>
<line x1="220" y1="589.6" x2="229.2" y2="589.6" stroke="#3a3a3a" stroke-width="0.8"/>
<circle cx="60.3" cy="548.8" r="2.1" fill="#1c1c1c"/>
<circle cx="58.1" cy="549.6" r="2.1" fill="#1c1c1c"/>
<circle cx="56.4" cy="551.4" r="2.1" fill="#1c1c1c"/>
<circle cx="57.3" cy="556.4" r="2.1" fill="#1c1c1c"/>
<circle cx="55.2" cy="559.3" r="2.1" fill="#1c1c1c"/>
<circle cx="57.6" cy="559.3" r="2.1" fill="#1c1c1c"/>
<circle cx="61.4" cy="558.7" r="2.1" fill="#1c1c1c"/>
<circle cx="57.3" cy="561" r="2.1" fill="#1c1c1c"/>
<circle cx="61" cy="563.4" r="2.1" fill="#1c1c1c"/>
<circle cx="59" cy="563.4" r="2.1" fill="#1c1c1c"/>
<circle cx="57" cy="566" r="2.1" fill="#1c1c1c"/>
<circle cx="59.3" cy="567.4" r="2.1" fill="#1c1c1c"/>
<circle cx="58.1" cy="571.8" r="2.1" fill="#1c1c1c"/>
<circle cx="96.3" cy="600" r="2.1" fill="#1c1c1c"/>
<circle cx="95.3" cy="637.9" r="2.1" fill="#1c1c1c"/>
<circle cx="97.2" cy="637.9" r="2.1" fill="#1c1c1c"/>
<circle cx="97.5" cy="647" r="2.1" fill="#1c1c1c"/>
<circle cx="96" cy="649" r="2.1" fill="#1c1c1c"/>
<circle cx="94.5" cy="651" r="2.1" fill="#1c1c1c"/>
<circle cx="93.5" cy="653.5" r="2.1" fill="#1c1c1c"/>
<circle cx="95.5" cy="653.5" r="2.1" fill="#1c1c1c"/>
<circle cx="97.5" cy="653.5" r="2.1" fill="#1c1c1c"/>
<circle cx="99.5" cy="653.5" r="2.1" fill="#1c1c1c"/>
<circle cx="134.7" cy="603.8" r="2.1" fill="#1c1c1c"/>
<circle cx="133.2" cy="607.6" r="2.1" fill="#1c1c1c"/>
<circle cx="133.7" cy="620.5" r="2.1" fill="#1c1c1c"/>
<circle cx="133.2" cy="625.6" r="2.1" fill="#1c1c1c"/>
<circle cx="135" cy="624.7" r="2.1" fill="#1c1c1c"/>
<circle cx="131.9" cy="638" r="2.1" fill="#1c1c1c"/>
<circle cx="133.6" cy="638" r="2.1" fill="#1c1c1c"/>
<circle cx="135.3" cy="638" r="2.1" fill="#1c1c1c"/>
<circle cx="137" cy="638" r="2.1" fill="#1c1c1c"/>
<circle cx="131.9" cy="653.5" r="2.1" fill="#1c1c1c"/>
<circle cx="133.6" cy="653.5" r="2.1" fill="#1c1c1c"/>
<circle cx="135.3" cy="653.5" r="2.1" fill="#1c1c1c"/>
<circle cx="137" cy="653.5" r="2.1" fill="#1c1c1c"/>
<circle cx="172.2" cy="590.6" r="2.1" fill="#1c1c1c"/>
<circle cx="172.2" cy="595.9" r="2.1" fill="#1c1c1c"/>
<circle cx="172.2" cy="605.3" r="2.1" fill="#1c1c1c"/>
<circle cx="172.2" cy="630.7" r="2.1" fill="#1c1c1c"/>
<circle cx="172.2" cy="638" r="2.1" fill="#1c1c1c"/>
<circle cx="170.5" cy="650" r="2.1" fill="#1c1c1c"/>
<circle cx="172.5" cy="650.5" r="2.1" fill="#1c1c1c"/>
<circle cx="174" cy="652" r="2.1" fill="#1c1c1c"/>
<circle cx="171" cy="653.5" r="2.1" fill="#1c1c1c"/>
<circle cx="173.5" cy="653.5" r="2.1" fill="#1c1c1c"/>
<circle cx="175.5" cy="653.5" r="2.1" fill="#1c1c1c"/>
<circle cx="210.1" cy="595.3" r="2.1" fill="#1c1c1c"/>
<circle cx="210.1" cy="618.1" r="2.1" fill="#1c1c1c"/>
<circle cx="210.1" cy="624.2" r="2.1" fill="#1c1c1c"/>
<circle cx="210.1" cy="638" r="2.1" fill="#1c1c1c"/>
<circle cx="210.1" cy="644" r="2.1" fill="#1c1c1c"/>
<circle cx="207" cy="653.5" r="2.1" fill="#1c1c1c"/>
<circle cx="209.5" cy="653.5" r="2.1" fill="#1c1c1c"/>
<circle cx="212" cy="653.5" r="2.1" fill="#1c1c1c"/>
<circle cx="208.5" cy="651" r="2.1" fill="#1c1c1c"/>
<circle cx="211.5" cy="651.5" r="2.1" fill="#1c1c1c"/>
<circle cx="72" cy="526.5" r="2.2" fill="none" stroke="#1c1c1c" stroke-width="0.8"/>
<circle cx="69.8" cy="529.5" r="2.2" fill="none" stroke="#1c1c1c" stroke-width="0.8"/>
<circle cx="72" cy="531.3" r="2.2" fill="none" stroke="#1c1c1c" stroke-width="0.8"/>
<circle cx="74.6" cy="531.3" r="2.2" fill="none" stroke="#1c1c1c" stroke-width="0.8"/>
<circle cx="75.5" cy="533" r="2.2" fill="none" stroke="#1c1c1c" stroke-width="0.8"/>
<circle cx="72.8" cy="533" r="2.2" fill="none" stroke="#1c1c1c" stroke-width="0.8"/>
<circle cx="69.8" cy="535.2" r="2.2" fill="none" stroke="#1c1c1c" stroke-width="0.8"/>
<circle cx="73.7" cy="536.5" r="2.2" fill="none" stroke="#1c1c1c" stroke-width="0.8"/>
<circle cx="71.5" cy="540" r="2.2" fill="none" stroke="#1c1c1c" stroke-width="0.8"/>
<circle cx="72.4" cy="545.5" r="2.2" fill="none" stroke="#1c1c1c" stroke-width="0.8"/>
<circle cx="71.6" cy="553.1" r="2.2" fill="none" stroke="#1c1c1c" stroke-width="0.8"/>
<circle cx="73.6" cy="556.6" r="2.2" fill="none" stroke="#1c1c1c" stroke-width="0.8"/>
<circle cx="72.4" cy="571" r="2.2" fill="none" stroke="#1c1c1c" stroke-width="0.8"/>
<circle cx="109.2" cy="561.9" r="2.2" fill="none" stroke="#1c1c1c" stroke-width="0.8"/>
<circle cx="112.2" cy="560.1" r="2.2" fill="none" stroke="#1c1c1c" stroke-width="0.8"/>
<circle cx="110.6" cy="567.7" r="2.2" fill="none" stroke="#1c1c1c" stroke-width="0.8"/>
<circle cx="110.6" cy="574.2" r="2.2" fill="none" stroke="#1c1c1c" stroke-width="0.8"/>
<circle cx="110.6" cy="577.7" r="2.2" fill="none" stroke="#1c1c1c" stroke-width="0.8"/>
<circle cx="110.6" cy="583.4" r="2.2" fill="none" stroke="#1c1c1c" stroke-width="0.8"/>
<circle cx="110.6" cy="589" r="2.2" fill="none" stroke="#1c1c1c" stroke-width="0.8"/>
<circle cx="107.4" cy="594.3" r="2.2" fill="none" stroke="#1c1c1c" stroke-width="0.8"/>
<circle cx="113.6" cy="592.9" r="2.2" fill="none" stroke="#1c1c1c" stroke-width="0.8"/>
<circle cx="110.6" cy="596.4" r="2.2" fill="none" stroke="#1c1c1c" stroke-width="0.8"/>
<circle cx="110.6" cy="606.6" r="2.2" fill="none" stroke="#1c1c1c" stroke-width="0.8"/>
<circle cx="110.6" cy="620.9" r="2.2" fill="none" stroke="#1c1c1c" stroke-width="0.8"/>
<circle cx="110.6" cy="653.5" r="2.2" fill="none" stroke="#1c1c1c" stroke-width="0.8"/>
<circle cx="149" cy="608.7" r="2.2" fill="none" stroke="#1c1c1c" stroke-width="0.8"/>
<circle cx="149" cy="613.2" r="2.2" fill="none" stroke="#1c1c1c" stroke-width="0.8"/>
<circle cx="149" cy="625.8" r="2.2" fill="none" stroke="#1c1c1c" stroke-width="0.8"/>
<circle cx="145.1" cy="638" r="2.2" fill="none" stroke="#1c1c1c" stroke-width="0.8"/>
<circle cx="147.6" cy="638" r="2.2" fill="none" stroke="#1c1c1c" stroke-width="0.8"/>
<circle cx="150.1" cy="638" r="2.2" fill="none" stroke="#1c1c1c" stroke-width="0.8"/>
<circle cx="152.6" cy="638" r="2.2" fill="none" stroke="#1c1c1c" stroke-width="0.8"/>
<circle cx="149" cy="650" r="2.2" fill="none" stroke="#1c1c1c" stroke-width="0.8"/>
<circle cx="146.5" cy="653.5" r="2.2" fill="none" stroke="#1c1c1c" stroke-width="0.8"/>
<circle cx="150.5" cy="653.5" r="2.2" fill="none" stroke="#1c1c1c" stroke-width="0.8"/>
<circle cx="186.4" cy="589.2" r="2.2" fill="none" stroke="#1c1c1c" stroke-width="0.8"/>
<circle cx="184.2" cy="612.9" r="2.2" fill="none" stroke="#1c1c1c" stroke-width="0.8"/>
<circle cx="186.8" cy="617.2" r="2.2" fill="none" stroke="#1c1c1c" stroke-width="0.8"/>
<circle cx="189.4" cy="617.2" r="2.2" fill="none" stroke="#1c1c1c" stroke-width="0.8"/>
<circle cx="183.3" cy="626" r="2.2" fill="none" stroke="#1c1c1c" stroke-width="0.8"/>
<circle cx="186.4" cy="626" r="2.2" fill="none" stroke="#1c1c1c" stroke-width="0.8"/>
<circle cx="189.4" cy="626" r="2.2" fill="none" stroke="#1c1c1c" stroke-width="0.8"/>
<circle cx="186.4" cy="638" r="2.2" fill="none" stroke="#1c1c1c" stroke-width="0.8"/>
<circle cx="183" cy="648.4" r="2.2" fill="none" stroke="#1c1c1c" stroke-width="0.8"/>
<circle cx="186.9" cy="650.9" r="2.2" fill="none" stroke="#1c1c1c" stroke-width="0.8"/>
<circle cx="189.7" cy="651.6" r="2.2" fill="none" stroke="#1c1c1c" stroke-width="0.8"/>
<circle cx="184" cy="653.5" r="2.2" fill="none" stroke="#1c1c1c" stroke-width="0.8"/>
<circle cx="224.6" cy="554.2" r="2.2" fill="none" stroke="#1c1c1c" stroke-width="0.8"/>
<circle cx="223.6" cy="601.5" r="2.2" fill="none" stroke="#1c1c1c" stroke-width="0.8"/>
<circle cx="225.7" cy="600.2" r="2.2" fill="none" stroke="#1c1c1c" stroke-width="0.8"/>
<circle cx="224.4" cy="638" r="2.2" fill="none" stroke="#1c1c1c" stroke-width="0.8"/>
<circle cx="222.5" cy="644.6" r="2.2" fill="none" stroke="#1c1c1c" stroke-width="0.8"/>
<circle cx="226.2" cy="645.5" r="2.2" fill="none" stroke="#1c1c1c" stroke-width="0.8"/>
<circle cx="223.8" cy="647.5" r="2.2" fill="none" stroke="#1c1c1c" stroke-width="0.8"/>
<circle cx="225" cy="649.7" r="2.2" fill="none" stroke="#1c1c1c" stroke-width="0.8"/>
<circle cx="222" cy="651.2" r="2.2" fill="none" stroke="#1c1c1c" stroke-width="0.8"/>
<circle cx="226.8" cy="651" r="2.2" fill="none" stroke="#1c1c1c" stroke-width="0.8"/>
<circle cx="224.5" cy="653.2" r="2.2" fill="none" stroke="#1c1c1c" stroke-width="0.8"/>
<line x1="53.1" y1="515.3" x2="75.5" y2="515.3" stroke="#555" stroke-width="0.8"/>
<text x="0" y="0" font-size="5.95" text-anchor="middle" transform="translate(64.3 512) scale(1 1.08)">p=0.0004</text>
<line x1="92.6" y1="555.4" x2="114.5" y2="555.4" stroke="#555" stroke-width="0.8"/>
<text x="0" y="0" font-size="5.95" text-anchor="middle" transform="translate(103.55 552.1) scale(1 1.08)">p=0.0001</text>
<line x1="130.2" y1="600.4" x2="152.1" y2="600.4" stroke="#555" stroke-width="0.8"/>
<text x="0" y="0" font-size="5.95" text-anchor="middle" transform="translate(141.15 597.1) scale(1 1.08)">p=0.9899</text>
<line x1="167.5" y1="583.4" x2="189.4" y2="583.4" stroke="#555" stroke-width="0.8"/>
<text x="0" y="0" font-size="5.95" text-anchor="middle" transform="translate(178.45 580.1) scale(1 1.08)">p=0.3667</text>
<line x1="204.3" y1="548.4" x2="226.7" y2="548.4" stroke="#555" stroke-width="0.8"/>
<text x="0" y="0" font-size="5.95" text-anchor="middle" transform="translate(215.5 545.1) scale(1 1.08)">p=0.3238</text>
<line x1="338.5" y1="512" x2="338.5" y2="653.4" stroke="#5e5e5e" stroke-width="1.2"/>
<line x1="337.9" y1="653.4" x2="524" y2="653.4" stroke="#5e5e5e" stroke-width="1.2"/>
<line x1="336.5" y1="653.4" x2="338.5" y2="653.4" stroke="#5e5e5e" stroke-width="1"/>
<text x="0" y="0" font-size="7.6" text-anchor="end" transform="translate(335.1 656.14) scale(1 1.08)">0</text>
<line x1="336.5" y1="620.5" x2="338.5" y2="620.5" stroke="#5e5e5e" stroke-width="1"/>
<text x="0" y="0" font-size="7.6" text-anchor="end" transform="translate(335.1 623.24) scale(1 1.08)">10<tspan font-size="4.86" dy="-3.19">1</tspan></text>
<line x1="336.5" y1="587.6" x2="338.5" y2="587.6" stroke="#5e5e5e" stroke-width="1"/>
<text x="0" y="0" font-size="7.6" text-anchor="end" transform="translate(335.1 590.34) scale(1 1.08)">10<tspan font-size="4.86" dy="-3.19">2</tspan></text>
<line x1="336.5" y1="554.7" x2="338.5" y2="554.7" stroke="#5e5e5e" stroke-width="1"/>
<text x="0" y="0" font-size="7.6" text-anchor="end" transform="translate(335.1 557.44) scale(1 1.08)">10<tspan font-size="4.86" dy="-3.19">3</tspan></text>
<line x1="336.5" y1="521.8" x2="338.5" y2="521.8" stroke="#5e5e5e" stroke-width="1"/>
<text x="0" y="0" font-size="7.6" text-anchor="end" transform="translate(335.1 524.54) scale(1 1.08)">10<tspan font-size="4.86" dy="-3.19">4</tspan></text>
<line x1="337.3" y1="643.5" x2="338.5" y2="643.5" stroke="#5e5e5e" stroke-width="0.6"/>
<line x1="337.3" y1="633.59" x2="338.5" y2="633.59" stroke="#5e5e5e" stroke-width="0.6"/>
<line x1="337.3" y1="627.8" x2="338.5" y2="627.8" stroke="#5e5e5e" stroke-width="0.6"/>
<line x1="337.3" y1="623.69" x2="338.5" y2="623.69" stroke="#5e5e5e" stroke-width="0.6"/>
<line x1="337.3" y1="610.6" x2="338.5" y2="610.6" stroke="#5e5e5e" stroke-width="0.6"/>
<line x1="337.3" y1="600.69" x2="338.5" y2="600.69" stroke="#5e5e5e" stroke-width="0.6"/>
<line x1="337.3" y1="594.9" x2="338.5" y2="594.9" stroke="#5e5e5e" stroke-width="0.6"/>
<line x1="337.3" y1="590.79" x2="338.5" y2="590.79" stroke="#5e5e5e" stroke-width="0.6"/>
<line x1="337.3" y1="577.7" x2="338.5" y2="577.7" stroke="#5e5e5e" stroke-width="0.6"/>
<line x1="337.3" y1="567.79" x2="338.5" y2="567.79" stroke="#5e5e5e" stroke-width="0.6"/>
<line x1="337.3" y1="562" x2="338.5" y2="562" stroke="#5e5e5e" stroke-width="0.6"/>
<line x1="337.3" y1="557.89" x2="338.5" y2="557.89" stroke="#5e5e5e" stroke-width="0.6"/>
<line x1="337.3" y1="544.8" x2="338.5" y2="544.8" stroke="#5e5e5e" stroke-width="0.6"/>
<line x1="337.3" y1="534.89" x2="338.5" y2="534.89" stroke="#5e5e5e" stroke-width="0.6"/>
<line x1="337.3" y1="529.1" x2="338.5" y2="529.1" stroke="#5e5e5e" stroke-width="0.6"/>
<line x1="337.3" y1="524.99" x2="338.5" y2="524.99" stroke="#5e5e5e" stroke-width="0.6"/>
<line x1="355.4" y1="653.4" x2="355.4" y2="654.6" stroke="#5e5e5e" stroke-width="0.8"/>
<text x="0" y="0" font-size="7.8" text-anchor="middle" transform="translate(355.4 664.3) scale(1 1.08)">3</text>
<line x1="393.3" y1="653.4" x2="393.3" y2="654.6" stroke="#5e5e5e" stroke-width="0.8"/>
<text x="0" y="0" font-size="7.8" text-anchor="middle" transform="translate(393.3 664.3) scale(1 1.08)">7</text>
<line x1="431.2" y1="653.4" x2="431.2" y2="654.6" stroke="#5e5e5e" stroke-width="0.8"/>
<text x="0" y="0" font-size="7.8" text-anchor="middle" transform="translate(431.2 664.3) scale(1 1.08)">21</text>
<line x1="469.1" y1="653.4" x2="469.1" y2="654.6" stroke="#5e5e5e" stroke-width="0.8"/>
<text x="0" y="0" font-size="7.8" text-anchor="middle" transform="translate(469.1 664.3) scale(1 1.08)">35</text>
<line x1="507" y1="653.4" x2="507" y2="654.6" stroke="#5e5e5e" stroke-width="0.8"/>
<text x="0" y="0" font-size="7.8" text-anchor="middle" transform="translate(507 664.3) scale(1 1.08)">56</text>
<text x="0" y="0" font-size="7.6" text-anchor="middle" transform="translate(431.25 674) scale(1 1.08)">Days post infection</text>
<text x="0" y="0" font-size="7.18" text-anchor="middle" transform="translate(319 580) scale(1 1.08) rotate(-90)">Recoverable IFU</text>
<circle cx="467.8" cy="513.8" r="2" fill="#1c1c1c"/>
<circle cx="467.8" cy="523.8" r="1.9" fill="none" stroke="#1c1c1c" stroke-width="0.7"/>
<text x="0" y="0" font-size="5.95" transform="translate(472.9 515.9) scale(1 1.08)">C57BL/6</text>
<text x="0" y="0" font-size="5.95" transform="translate(472.9 525.9) scale(1 1.08)">Caspase1/11<tspan font-size="4" dy="-2.2">-/-</tspan></text>
<line x1="348.1" y1="549.8" x2="348.1" y2="562" stroke="#3a3a3a" stroke-width="0.8"/>
<line x1="345.7" y1="549.8" x2="350.5" y2="549.8" stroke="#3a3a3a" stroke-width="0.8"/>
<line x1="343.6" y1="555.4" x2="352.6" y2="555.4" stroke="#3a3a3a" stroke-width="0.8"/>
<line x1="345.7" y1="562" x2="350.5" y2="562" stroke="#3a3a3a" stroke-width="0.8"/>
<line x1="362.6" y1="526.5" x2="362.6" y2="564.6" stroke="#3a3a3a" stroke-width="0.8"/>
<line x1="360.2" y1="526.5" x2="365" y2="526.5" stroke="#3a3a3a" stroke-width="0.8"/>
<line x1="358.2" y1="533.4" x2="367" y2="533.4" stroke="#3a3a3a" stroke-width="0.8"/>
<line x1="360.2" y1="564.6" x2="365" y2="564.6" stroke="#3a3a3a" stroke-width="0.8"/>
<line x1="386.2" y1="618.5" x2="386.2" y2="631.4" stroke="#3a3a3a" stroke-width="0.8"/>
<line x1="383.4" y1="618.5" x2="389" y2="618.5" stroke="#3a3a3a" stroke-width="0.8"/>
<line x1="381.3" y1="631.4" x2="391.1" y2="631.4" stroke="#3a3a3a" stroke-width="0.8"/>
<line x1="399.9" y1="574.4" x2="399.9" y2="588.8" stroke="#3a3a3a" stroke-width="0.8"/>
<line x1="397.7" y1="574.4" x2="402.1" y2="574.4" stroke="#3a3a3a" stroke-width="0.8"/>
<line x1="395.4" y1="588.8" x2="404.4" y2="588.8" stroke="#3a3a3a" stroke-width="0.8"/>
<line x1="424" y1="623.4" x2="424" y2="637.5" stroke="#3a3a3a" stroke-width="0.8"/>
<line x1="421.4" y1="623.4" x2="426.6" y2="623.4" stroke="#3a3a3a" stroke-width="0.8"/>
<line x1="418.8" y1="637.5" x2="429.2" y2="637.5" stroke="#3a3a3a" stroke-width="0.8"/>
<line x1="438.9" y1="618.5" x2="438.9" y2="629.5" stroke="#3a3a3a" stroke-width="0.8"/>
<line x1="436.3" y1="618.5" x2="441.5" y2="618.5" stroke="#3a3a3a" stroke-width="0.8"/>
<line x1="434" y1="629.5" x2="443.8" y2="629.5" stroke="#3a3a3a" stroke-width="0.8"/>
<line x1="462.2" y1="622.1" x2="462.2" y2="637" stroke="#3a3a3a" stroke-width="0.8"/>
<line x1="459.6" y1="622.1" x2="464.8" y2="622.1" stroke="#3a3a3a" stroke-width="0.8"/>
<line x1="457.6" y1="637" x2="466.8" y2="637" stroke="#3a3a3a" stroke-width="0.8"/>
<line x1="475.9" y1="603.8" x2="475.9" y2="616.6" stroke="#3a3a3a" stroke-width="0.8"/>
<line x1="473.5" y1="603.8" x2="478.3" y2="603.8" stroke="#3a3a3a" stroke-width="0.8"/>
<line x1="471.1" y1="616.6" x2="480.7" y2="616.6" stroke="#3a3a3a" stroke-width="0.8"/>
<line x1="499.9" y1="627.5" x2="499.9" y2="640.4" stroke="#3a3a3a" stroke-width="0.8"/>
<line x1="497.4" y1="627.5" x2="502.4" y2="627.5" stroke="#3a3a3a" stroke-width="0.8"/>
<line x1="495.3" y1="640.4" x2="504.5" y2="640.4" stroke="#3a3a3a" stroke-width="0.8"/>
<line x1="514.3" y1="575.6" x2="514.3" y2="595.6" stroke="#3a3a3a" stroke-width="0.8"/>
<line x1="511.7" y1="575.6" x2="516.9" y2="575.6" stroke="#3a3a3a" stroke-width="0.8"/>
<line x1="509.5" y1="595.6" x2="519.1" y2="595.6" stroke="#3a3a3a" stroke-width="0.8"/>
<circle cx="350.6" cy="545.3" r="2.1" fill="#1c1c1c"/>
<circle cx="348.1" cy="546.6" r="2.1" fill="#1c1c1c"/>
<circle cx="350.6" cy="551.1" r="2.1" fill="#1c1c1c"/>
<circle cx="348.1" cy="554.3" r="2.1" fill="#1c1c1c"/>
<circle cx="345.3" cy="558.1" r="2.1" fill="#1c1c1c"/>
<circle cx="350.9" cy="559.4" r="2.1" fill="#1c1c1c"/>
<circle cx="345.3" cy="563.4" r="2.1" fill="#1c1c1c"/>
<circle cx="348.1" cy="565" r="2.1" fill="#1c1c1c"/>
<circle cx="350.9" cy="566.6" r="2.1" fill="#1c1c1c"/>
<circle cx="345.3" cy="569.4" r="2.1" fill="#1c1c1c"/>
<circle cx="385" cy="612.9" r="2.1" fill="#1c1c1c"/>
<circle cx="387.5" cy="612.9" r="2.1" fill="#1c1c1c"/>
<circle cx="385" cy="637.5" r="2.1" fill="#1c1c1c"/>
<circle cx="387.5" cy="637.5" r="2.1" fill="#1c1c1c"/>
<circle cx="386.2" cy="647.5" r="2.1" fill="#1c1c1c"/>
<circle cx="384.5" cy="650" r="2.1" fill="#1c1c1c"/>
<circle cx="388" cy="650" r="2.1" fill="#1c1c1c"/>
<circle cx="383" cy="652.5" r="2.1" fill="#1c1c1c"/>
<circle cx="386" cy="653" r="2.1" fill="#1c1c1c"/>
<circle cx="389" cy="653" r="2.1" fill="#1c1c1c"/>
<circle cx="385" cy="651.5" r="2.1" fill="#1c1c1c"/>
<circle cx="424" cy="612.9" r="2.1" fill="#1c1c1c"/>
<circle cx="424" cy="637.5" r="2.1" fill="#1c1c1c"/>
<circle cx="424" cy="647" r="2.1" fill="#1c1c1c"/>
<circle cx="422" cy="650" r="2.1" fill="#1c1c1c"/>
<circle cx="426" cy="650" r="2.1" fill="#1c1c1c"/>
<circle cx="421" cy="653" r="2.1" fill="#1c1c1c"/>
<circle cx="424" cy="653.5" r="2.1" fill="#1c1c1c"/>
<circle cx="427" cy="653" r="2.1" fill="#1c1c1c"/>
<circle cx="462.2" cy="610.5" r="2.1" fill="#1c1c1c"/>
<circle cx="462.2" cy="644" r="2.1" fill="#1c1c1c"/>
<circle cx="460.5" cy="647" r="2.1" fill="#1c1c1c"/>
<circle cx="463.5" cy="647.5" r="2.1" fill="#1c1c1c"/>
<circle cx="459" cy="650.5" r="2.1" fill="#1c1c1c"/>
<circle cx="462" cy="651" r="2.1" fill="#1c1c1c"/>
<circle cx="465" cy="650.5" r="2.1" fill="#1c1c1c"/>
<circle cx="459" cy="653.5" r="2.1" fill="#1c1c1c"/>
<circle cx="462" cy="653.5" r="2.1" fill="#1c1c1c"/>
<circle cx="465" cy="653.5" r="2.1" fill="#1c1c1c"/>
<circle cx="499.9" cy="617.1" r="2.1" fill="#1c1c1c"/>
<circle cx="499.9" cy="644" r="2.1" fill="#1c1c1c"/>
<circle cx="498.5" cy="647" r="2.1" fill="#1c1c1c"/>
<circle cx="501.5" cy="647.5" r="2.1" fill="#1c1c1c"/>
<circle cx="497" cy="650.5" r="2.1" fill="#1c1c1c"/>
<circle cx="500" cy="651" r="2.1" fill="#1c1c1c"/>
<circle cx="503" cy="650.5" r="2.1" fill="#1c1c1c"/>
<circle cx="497" cy="653.5" r="2.1" fill="#1c1c1c"/>
<circle cx="500" cy="653.5" r="2.1" fill="#1c1c1c"/>
<circle cx="503" cy="653.5" r="2.1" fill="#1c1c1c"/>
<circle cx="362.6" cy="520.1" r="2.2" fill="none" stroke="#1c1c1c" stroke-width="0.8"/>
<circle cx="359.7" cy="524.9" r="2.2" fill="none" stroke="#1c1c1c" stroke-width="0.8"/>
<circle cx="365.3" cy="524.1" r="2.2" fill="none" stroke="#1c1c1c" stroke-width="0.8"/>
<circle cx="362.6" cy="525.7" r="2.2" fill="none" stroke="#1c1c1c" stroke-width="0.8"/>
<circle cx="362.6" cy="534.5" r="2.2" fill="none" stroke="#1c1c1c" stroke-width="0.8"/>
<circle cx="362.6" cy="545.3" r="2.2" fill="none" stroke="#1c1c1c" stroke-width="0.8"/>
<circle cx="359.7" cy="552.2" r="2.2" fill="none" stroke="#1c1c1c" stroke-width="0.8"/>
<circle cx="365" cy="552.7" r="2.2" fill="none" stroke="#1c1c1c" stroke-width="0.8"/>
<circle cx="362.6" cy="555.4" r="2.2" fill="none" stroke="#1c1c1c" stroke-width="0.8"/>
<circle cx="362.6" cy="570.7" r="2.2" fill="none" stroke="#1c1c1c" stroke-width="0.8"/>
<circle cx="400.2" cy="563.9" r="2.2" fill="none" stroke="#1c1c1c" stroke-width="0.8"/>
<circle cx="399.9" cy="586.1" r="2.2" fill="none" stroke="#1c1c1c" stroke-width="0.8"/>
<circle cx="397.5" cy="594.1" r="2.2" fill="none" stroke="#1c1c1c" stroke-width="0.8"/>
<circle cx="403.6" cy="594.8" r="2.2" fill="none" stroke="#1c1c1c" stroke-width="0.8"/>
<circle cx="399.9" cy="592.8" r="2.2" fill="none" stroke="#1c1c1c" stroke-width="0.8"/>
<circle cx="399.9" cy="605.7" r="2.2" fill="none" stroke="#1c1c1c" stroke-width="0.8"/>
<circle cx="403.9" cy="604.4" r="2.2" fill="none" stroke="#1c1c1c" stroke-width="0.8"/>
<circle cx="399.9" cy="612.9" r="2.2" fill="none" stroke="#1c1c1c" stroke-width="0.8"/>
<circle cx="399.9" cy="620.5" r="2.2" fill="none" stroke="#1c1c1c" stroke-width="0.8"/>
<circle cx="439.2" cy="612.9" r="2.2" fill="none" stroke="#1c1c1c" stroke-width="0.8"/>
<circle cx="436.8" cy="616.6" r="2.2" fill="none" stroke="#1c1c1c" stroke-width="0.8"/>
<circle cx="438.9" cy="625.8" r="2.2" fill="none" stroke="#1c1c1c" stroke-width="0.8"/>
<circle cx="435.2" cy="637.5" r="2.2" fill="none" stroke="#1c1c1c" stroke-width="0.8"/>
<circle cx="437.6" cy="637.5" r="2.2" fill="none" stroke="#1c1c1c" stroke-width="0.8"/>
<circle cx="440" cy="637.5" r="2.2" fill="none" stroke="#1c1c1c" stroke-width="0.8"/>
<circle cx="442.4" cy="637.5" r="2.2" fill="none" stroke="#1c1c1c" stroke-width="0.8"/>
<circle cx="437" cy="653.5" r="2.2" fill="none" stroke="#1c1c1c" stroke-width="0.8"/>
<circle cx="440" cy="653.5" r="2.2" fill="none" stroke="#1c1c1c" stroke-width="0.8"/>
<circle cx="475.9" cy="593.2" r="2.2" fill="none" stroke="#1c1c1c" stroke-width="0.8"/>
<circle cx="475.9" cy="605.7" r="2.2" fill="none" stroke="#1c1c1c" stroke-width="0.8"/>
<circle cx="475.9" cy="616.6" r="2.2" fill="none" stroke="#1c1c1c" stroke-width="0.8"/>
<circle cx="474.4" cy="625.8" r="2.2" fill="none" stroke="#1c1c1c" stroke-width="0.8"/>
<circle cx="477.4" cy="625.8" r="2.2" fill="none" stroke="#1c1c1c" stroke-width="0.8"/>
<circle cx="474.4" cy="637.5" r="2.2" fill="none" stroke="#1c1c1c" stroke-width="0.8"/>
<circle cx="477.4" cy="637.5" r="2.2" fill="none" stroke="#1c1c1c" stroke-width="0.8"/>
<circle cx="475.9" cy="650.5" r="2.2" fill="none" stroke="#1c1c1c" stroke-width="0.8"/>
<circle cx="473.5" cy="653.5" r="2.2" fill="none" stroke="#1c1c1c" stroke-width="0.8"/>
<circle cx="478.5" cy="653.5" r="2.2" fill="none" stroke="#1c1c1c" stroke-width="0.8"/>
<circle cx="514.3" cy="562.9" r="2.2" fill="none" stroke="#1c1c1c" stroke-width="0.8"/>
<circle cx="514.3" cy="620.4" r="2.2" fill="none" stroke="#1c1c1c" stroke-width="0.8"/>
<circle cx="514.3" cy="625.5" r="2.2" fill="none" stroke="#1c1c1c" stroke-width="0.8"/>
<circle cx="514.3" cy="637.8" r="2.2" fill="none" stroke="#1c1c1c" stroke-width="0.8"/>
<circle cx="513" cy="649.5" r="2.2" fill="none" stroke="#1c1c1c" stroke-width="0.8"/>
<circle cx="515.8" cy="650.3" r="2.2" fill="none" stroke="#1c1c1c" stroke-width="0.8"/>
<circle cx="512.5" cy="653.5" r="2.2" fill="none" stroke="#1c1c1c" stroke-width="0.8"/>
<circle cx="515.5" cy="653.5" r="2.2" fill="none" stroke="#1c1c1c" stroke-width="0.8"/>
<line x1="343.2" y1="515.6" x2="368.5" y2="515.6" stroke="#555" stroke-width="0.8"/>
<text x="0" y="0" font-size="5.95" text-anchor="middle" transform="translate(355.85 512.3) scale(1 1.08)">p=0.0232</text>
<line x1="379.8" y1="559.4" x2="404.7" y2="559.4" stroke="#555" stroke-width="0.8"/>
<text x="0" y="0" font-size="5.95" text-anchor="middle" transform="translate(392.25 556.1) scale(1 1.08)">p=0.0036</text>
<line x1="418" y1="606" x2="443.7" y2="606" stroke="#555" stroke-width="0.8"/>
<text x="0" y="0" font-size="5.95" text-anchor="middle" transform="translate(430.85 602.7) scale(1 1.08)">p=0.2880</text>
<line x1="454.5" y1="588" x2="479.4" y2="588" stroke="#555" stroke-width="0.8"/>
<text x="0" y="0" font-size="5.95" text-anchor="middle" transform="translate(466.95 584.7) scale(1 1.08)">p=0.1259</text>
<line x1="492.8" y1="558.3" x2="518.2" y2="558.3" stroke="#555" stroke-width="0.8"/>
<text x="0" y="0" font-size="5.95" text-anchor="middle" transform="translate(505.5 555) scale(1 1.08)">p=0.9651</text>
<line x1="36.7" y1="719.7" x2="36.7" y2="861.4" stroke="#5e5e5e" stroke-width="1.2"/>
<line x1="36.1" y1="861.4" x2="221.7" y2="861.4" stroke="#5e5e5e" stroke-width="1.2"/>
<line x1="34.7" y1="861.4" x2="36.7" y2="861.4" stroke="#5e5e5e" stroke-width="1"/>
<text x="0" y="0" font-size="8.13" text-anchor="end" transform="translate(33.3 864.33) scale(1 1.08)">0</text>
<line x1="34.7" y1="826.1" x2="36.7" y2="826.1" stroke="#5e5e5e" stroke-width="1"/>
<text x="0" y="0" font-size="8.13" text-anchor="end" transform="translate(33.3 829.03) scale(1 1.08)">10<tspan font-size="5.2" dy="-3.42">1</tspan></text>
<line x1="34.7" y1="790.8" x2="36.7" y2="790.8" stroke="#5e5e5e" stroke-width="1"/>
<text x="0" y="0" font-size="8.13" text-anchor="end" transform="translate(33.3 793.73) scale(1 1.08)">10<tspan font-size="5.2" dy="-3.42">2</tspan></text>
<line x1="34.7" y1="755.5" x2="36.7" y2="755.5" stroke="#5e5e5e" stroke-width="1"/>
<text x="0" y="0" font-size="8.13" text-anchor="end" transform="translate(33.3 758.43) scale(1 1.08)">10<tspan font-size="5.2" dy="-3.42">3</tspan></text>
<line x1="34.7" y1="720.2" x2="36.7" y2="720.2" stroke="#5e5e5e" stroke-width="1"/>
<text x="0" y="0" font-size="8.13" text-anchor="end" transform="translate(33.3 723.13) scale(1 1.08)">10<tspan font-size="5.2" dy="-3.42">4</tspan></text>
<line x1="35.5" y1="850.77" x2="36.7" y2="850.77" stroke="#5e5e5e" stroke-width="0.6"/>
<line x1="35.5" y1="840.15" x2="36.7" y2="840.15" stroke="#5e5e5e" stroke-width="0.6"/>
<line x1="35.5" y1="833.93" x2="36.7" y2="833.93" stroke="#5e5e5e" stroke-width="0.6"/>
<line x1="35.5" y1="829.52" x2="36.7" y2="829.52" stroke="#5e5e5e" stroke-width="0.6"/>
<line x1="35.5" y1="815.47" x2="36.7" y2="815.47" stroke="#5e5e5e" stroke-width="0.6"/>
<line x1="35.5" y1="804.85" x2="36.7" y2="804.85" stroke="#5e5e5e" stroke-width="0.6"/>
<line x1="35.5" y1="798.63" x2="36.7" y2="798.63" stroke="#5e5e5e" stroke-width="0.6"/>
<line x1="35.5" y1="794.22" x2="36.7" y2="794.22" stroke="#5e5e5e" stroke-width="0.6"/>
<line x1="35.5" y1="780.17" x2="36.7" y2="780.17" stroke="#5e5e5e" stroke-width="0.6"/>
<line x1="35.5" y1="769.55" x2="36.7" y2="769.55" stroke="#5e5e5e" stroke-width="0.6"/>
<line x1="35.5" y1="763.33" x2="36.7" y2="763.33" stroke="#5e5e5e" stroke-width="0.6"/>
<line x1="35.5" y1="758.92" x2="36.7" y2="758.92" stroke="#5e5e5e" stroke-width="0.6"/>
<line x1="35.5" y1="744.87" x2="36.7" y2="744.87" stroke="#5e5e5e" stroke-width="0.6"/>
<line x1="35.5" y1="734.25" x2="36.7" y2="734.25" stroke="#5e5e5e" stroke-width="0.6"/>
<line x1="35.5" y1="728.03" x2="36.7" y2="728.03" stroke="#5e5e5e" stroke-width="0.6"/>
<line x1="35.5" y1="723.62" x2="36.7" y2="723.62" stroke="#5e5e5e" stroke-width="0.6"/>
<line x1="53.4" y1="861.4" x2="53.4" y2="862.6" stroke="#5e5e5e" stroke-width="0.8"/>
<text x="0" y="0" font-size="8.35" text-anchor="middle" transform="translate(53.4 871.9) scale(1 1.08)">3</text>
<line x1="91.3" y1="861.4" x2="91.3" y2="862.6" stroke="#5e5e5e" stroke-width="0.8"/>
<text x="0" y="0" font-size="8.35" text-anchor="middle" transform="translate(91.3 871.9) scale(1 1.08)">7</text>
<line x1="129.2" y1="861.4" x2="129.2" y2="862.6" stroke="#5e5e5e" stroke-width="0.8"/>
<text x="0" y="0" font-size="8.35" text-anchor="middle" transform="translate(129.2 871.9) scale(1 1.08)">21</text>
<line x1="167.1" y1="861.4" x2="167.1" y2="862.6" stroke="#5e5e5e" stroke-width="0.8"/>
<text x="0" y="0" font-size="8.35" text-anchor="middle" transform="translate(167.1 871.9) scale(1 1.08)">35</text>
<line x1="205" y1="861.4" x2="205" y2="862.6" stroke="#5e5e5e" stroke-width="0.8"/>
<text x="0" y="0" font-size="8.35" text-anchor="middle" transform="translate(205 871.9) scale(1 1.08)">56</text>
<text x="0" y="0" font-size="8.13" text-anchor="middle" transform="translate(129.2 881.7) scale(1 1.08)">Days post infection</text>
<text x="0" y="0" font-size="7.78" text-anchor="middle" transform="translate(18.8 785) scale(1 1.08) rotate(-90)">Recoverable IFU</text>
<circle cx="186.25" cy="722.5" r="2" fill="#1c1c1c"/>
<circle cx="186.25" cy="732.7" r="1.9" fill="none" stroke="#1c1c1c" stroke-width="0.7"/>
<text x="0" y="0" font-size="5.95" transform="translate(191.35 724.6) scale(1 1.08)">C57BL/6</text>
<text x="0" y="0" font-size="5.95" transform="translate(191.35 734.8) scale(1 1.08)">IL-1α<tspan font-size="4" dy="-2.2">-/-</tspan></text>
<line x1="46.6" y1="751.8" x2="46.6" y2="777.5" stroke="#3a3a3a" stroke-width="0.8"/>
<line x1="44.2" y1="751.8" x2="49" y2="751.8" stroke="#3a3a3a" stroke-width="0.8"/>
<line x1="42" y1="759.1" x2="51.2" y2="759.1" stroke="#3a3a3a" stroke-width="0.8"/>
<line x1="44.2" y1="777.5" x2="49" y2="777.5" stroke="#3a3a3a" stroke-width="0.8"/>
<line x1="60.2" y1="740.6" x2="60.2" y2="765.5" stroke="#3a3a3a" stroke-width="0.8"/>
<line x1="57.6" y1="740.6" x2="62.8" y2="740.6" stroke="#3a3a3a" stroke-width="0.8"/>
<line x1="55" y1="749.4" x2="65.4" y2="749.4" stroke="#3a3a3a" stroke-width="0.8"/>
<line x1="57.6" y1="765.5" x2="62.8" y2="765.5" stroke="#3a3a3a" stroke-width="0.8"/>
<line x1="84.1" y1="817.5" x2="84.1" y2="834.7" stroke="#3a3a3a" stroke-width="0.8"/>
<line x1="81.7" y1="817.5" x2="86.5" y2="817.5" stroke="#3a3a3a" stroke-width="0.8"/>
<line x1="79.6" y1="834.7" x2="88.6" y2="834.7" stroke="#3a3a3a" stroke-width="0.8"/>
<line x1="98.6" y1="768.7" x2="98.6" y2="781.3" stroke="#3a3a3a" stroke-width="0.8"/>
<line x1="96.2" y1="768.7" x2="101" y2="768.7" stroke="#3a3a3a" stroke-width="0.8"/>
<line x1="94.2" y1="781.3" x2="103" y2="781.3" stroke="#3a3a3a" stroke-width="0.8"/>
<line x1="121.9" y1="829.4" x2="121.9" y2="843.3" stroke="#3a3a3a" stroke-width="0.8"/>
<line x1="119.5" y1="829.4" x2="124.3" y2="829.4" stroke="#3a3a3a" stroke-width="0.8"/>
<line x1="117.3" y1="843.3" x2="126.5" y2="843.3" stroke="#3a3a3a" stroke-width="0.8"/>
<line x1="136.3" y1="783.3" x2="136.3" y2="797.3" stroke="#3a3a3a" stroke-width="0.8"/>
<line x1="133.9" y1="783.3" x2="138.7" y2="783.3" stroke="#3a3a3a" stroke-width="0.8"/>
<line x1="131.7" y1="797.3" x2="140.9" y2="797.3" stroke="#3a3a3a" stroke-width="0.8"/>
<line x1="160.3" y1="816.2" x2="160.3" y2="835.2" stroke="#3a3a3a" stroke-width="0.8"/>
<line x1="157.7" y1="816.2" x2="162.9" y2="816.2" stroke="#3a3a3a" stroke-width="0.8"/>
<line x1="155.7" y1="835.2" x2="164.9" y2="835.2" stroke="#3a3a3a" stroke-width="0.8"/>
<line x1="174.4" y1="782" x2="174.4" y2="796.1" stroke="#3a3a3a" stroke-width="0.8"/>
<line x1="172" y1="782" x2="176.8" y2="782" stroke="#3a3a3a" stroke-width="0.8"/>
<line x1="169.8" y1="796.1" x2="179" y2="796.1" stroke="#3a3a3a" stroke-width="0.8"/>
<line x1="197.9" y1="838" x2="197.9" y2="848.3" stroke="#3a3a3a" stroke-width="0.8"/>
<line x1="195.5" y1="838" x2="200.3" y2="838" stroke="#3a3a3a" stroke-width="0.8"/>
<line x1="193.2" y1="848.3" x2="202.6" y2="848.3" stroke="#3a3a3a" stroke-width="0.8"/>
<line x1="212.3" y1="804.2" x2="212.3" y2="820.4" stroke="#3a3a3a" stroke-width="0.8"/>
<line x1="209.9" y1="804.2" x2="214.7" y2="804.2" stroke="#3a3a3a" stroke-width="0.8"/>
<line x1="207.4" y1="820.4" x2="217.2" y2="820.4" stroke="#3a3a3a" stroke-width="0.8"/>
<circle cx="46.9" cy="745.9" r="2.1" fill="#1c1c1c"/>
<circle cx="45.8" cy="748.1" r="2.1" fill="#1c1c1c"/>
<circle cx="42.6" cy="759.1" r="2.1" fill="#1c1c1c"/>
<circle cx="44.6" cy="759.1" r="2.1" fill="#1c1c1c"/>
<circle cx="46.6" cy="759.1" r="2.1" fill="#1c1c1c"/>
<circle cx="48.6" cy="759.1" r="2.1" fill="#1c1c1c"/>
<circle cx="50.6" cy="759.1" r="2.1" fill="#1c1c1c"/>
<circle cx="46.6" cy="767.9" r="2.1" fill="#1c1c1c"/>
<circle cx="45.8" cy="770.3" r="2.1" fill="#1c1c1c"/>
<circle cx="46.6" cy="773.5" r="2.1" fill="#1c1c1c"/>
<circle cx="44.6" cy="776.7" r="2.1" fill="#1c1c1c"/>
<circle cx="47.5" cy="775" r="2.1" fill="#1c1c1c"/>
<circle cx="47" cy="764" r="2.1" fill="#1c1c1c"/>
<circle cx="82.8" cy="817.5" r="2.1" fill="#1c1c1c"/>
<circle cx="85.3" cy="817.5" r="2.1" fill="#1c1c1c"/>
<circle cx="84.1" cy="823.1" r="2.1" fill="#1c1c1c"/>
<circle cx="84.1" cy="831.1" r="2.1" fill="#1c1c1c"/>
<circle cx="84.1" cy="851.9" r="2.1" fill="#1c1c1c"/>
<circle cx="83" cy="855" r="2.1" fill="#1c1c1c"/>
<circle cx="85.5" cy="855.5" r="2.1" fill="#1c1c1c"/>
<circle cx="82.5" cy="858" r="2.1" fill="#1c1c1c"/>
<circle cx="86" cy="858.5" r="2.1" fill="#1c1c1c"/>
<circle cx="81.5" cy="861" r="2.1" fill="#1c1c1c"/>
<circle cx="84" cy="861.4" r="2.1" fill="#1c1c1c"/>
<circle cx="86.5" cy="861.4" r="2.1" fill="#1c1c1c"/>
<circle cx="88.5" cy="861.4" r="2.1" fill="#1c1c1c"/>
<circle cx="121.9" cy="817" r="2.1" fill="#1c1c1c"/>
<circle cx="121.9" cy="829.4" r="2.1" fill="#1c1c1c"/>
<circle cx="121.9" cy="850.7" r="2.1" fill="#1c1c1c"/>
<circle cx="120" cy="855" r="2.1" fill="#1c1c1c"/>
<circle cx="123" cy="855.5" r="2.1" fill="#1c1c1c"/>
<circle cx="119" cy="858" r="2.1" fill="#1c1c1c"/>
<circle cx="122" cy="858" r="2.1" fill="#1c1c1c"/>
<circle cx="125" cy="858.5" r="2.1" fill="#1c1c1c"/>
<circle cx="118.5" cy="861.4" r="2.1" fill="#1c1c1c"/>
<circle cx="121.5" cy="861.4" r="2.1" fill="#1c1c1c"/>
<circle cx="124.5" cy="861.4" r="2.1" fill="#1c1c1c"/>
<circle cx="160.3" cy="802.1" r="2.1" fill="#1c1c1c"/>
<circle cx="158" cy="850" r="2.1" fill="#1c1c1c"/>
<circle cx="161" cy="850" r="2.1" fill="#1c1c1c"/>
<circle cx="163" cy="851" r="2.1" fill="#1c1c1c"/>
<circle cx="159" cy="853" r="2.1" fill="#1c1c1c"/>
<circle cx="161.5" cy="855" r="2.1" fill="#1c1c1c"/>
<circle cx="158.5" cy="857.5" r="2.1" fill="#1c1c1c"/>
<circle cx="161" cy="858" r="2.1" fill="#1c1c1c"/>
<circle cx="157.5" cy="861.4" r="2.1" fill="#1c1c1c"/>
<circle cx="160.5" cy="861.4" r="2.1" fill="#1c1c1c"/>
<circle cx="163.5" cy="861.4" r="2.1" fill="#1c1c1c"/>
<circle cx="197.9" cy="829.6" r="2.1" fill="#1c1c1c"/>
<circle cx="197.9" cy="836.9" r="2.1" fill="#1c1c1c"/>
<circle cx="197.9" cy="844.4" r="2.1" fill="#1c1c1c"/>
<circle cx="196" cy="850.5" r="2.1" fill="#1c1c1c"/>
<circle cx="199.5" cy="851" r="2.1" fill="#1c1c1c"/>
<circle cx="195" cy="854" r="2.1" fill="#1c1c1c"/>
<circle cx="198" cy="854.5" r="2.1" fill="#1c1c1c"/>
<circle cx="201" cy="854" r="2.1" fill="#1c1c1c"/>
<circle cx="195.5" cy="858" r="2.1" fill="#1c1c1c"/>
<circle cx="199" cy="858.5" r="2.1" fill="#1c1c1c"/>
<circle cx="194.5" cy="861.4" r="2.1" fill="#1c1c1c"/>
<circle cx="197.5" cy="861.4" r="2.1" fill="#1c1c1c"/>
<circle cx="200.5" cy="861.4" r="2.1" fill="#1c1c1c"/>
<circle cx="63.9" cy="737.9" r="2.2" fill="none" stroke="#1c1c1c" stroke-width="0.8"/>
<circle cx="60.2" cy="739.8" r="2.2" fill="none" stroke="#1c1c1c" stroke-width="0.8"/>
<circle cx="57.5" cy="743.8" r="2.2" fill="none" stroke="#1c1c1c" stroke-width="0.8"/>
<circle cx="63.9" cy="743" r="2.2" fill="none" stroke="#1c1c1c" stroke-width="0.8"/>
<circle cx="60.2" cy="746.2" r="2.2" fill="none" stroke="#1c1c1c" stroke-width="0.8"/>
<circle cx="57.5" cy="751.8" r="2.2" fill="none" stroke="#1c1c1c" stroke-width="0.8"/>
<circle cx="63.9" cy="754.2" r="2.2" fill="none" stroke="#1c1c1c" stroke-width="0.8"/>
<circle cx="60.2" cy="756.6" r="2.2" fill="none" stroke="#1c1c1c" stroke-width="0.8"/>
<circle cx="63.9" cy="759.9" r="2.2" fill="none" stroke="#1c1c1c" stroke-width="0.8"/>
<circle cx="60.2" cy="763.1" r="2.2" fill="none" stroke="#1c1c1c" stroke-width="0.8"/>
<circle cx="57.5" cy="772.2" r="2.2" fill="none" stroke="#1c1c1c" stroke-width="0.8"/>
<circle cx="60.2" cy="776.7" r="2.2" fill="none" stroke="#1c1c1c" stroke-width="0.8"/>
<circle cx="98.6" cy="757.8" r="2.2" fill="none" stroke="#1c1c1c" stroke-width="0.8"/>
<circle cx="98.6" cy="766.1" r="2.2" fill="none" stroke="#1c1c1c" stroke-width="0.8"/>
<circle cx="98.6" cy="771.6" r="2.2" fill="none" stroke="#1c1c1c" stroke-width="0.8"/>
<circle cx="97.3" cy="787.6" r="2.2" fill="none" stroke="#1c1c1c" stroke-width="0.8"/>
<circle cx="99.7" cy="787.6" r="2.2" fill="none" stroke="#1c1c1c" stroke-width="0.8"/>
<circle cx="98.6" cy="797.3" r="2.2" fill="none" stroke="#1c1c1c" stroke-width="0.8"/>
<circle cx="95.7" cy="801" r="2.2" fill="none" stroke="#1c1c1c" stroke-width="0.8"/>
<circle cx="101.3" cy="801" r="2.2" fill="none" stroke="#1c1c1c" stroke-width="0.8"/>
<circle cx="98.6" cy="802.6" r="2.2" fill="none" stroke="#1c1c1c" stroke-width="0.8"/>
<circle cx="101.3" cy="805.8" r="2.2" fill="none" stroke="#1c1c1c" stroke-width="0.8"/>
<circle cx="98.6" cy="809" r="2.2" fill="none" stroke="#1c1c1c" stroke-width="0.8"/>
<circle cx="98.6" cy="821.3" r="2.2" fill="none" stroke="#1c1c1c" stroke-width="0.8"/>
<circle cx="98.6" cy="825.5" r="2.2" fill="none" stroke="#1c1c1c" stroke-width="0.8"/>
<circle cx="135" cy="775.7" r="2.2" fill="none" stroke="#1c1c1c" stroke-width="0.8"/>
<circle cx="137.4" cy="775.7" r="2.2" fill="none" stroke="#1c1c1c" stroke-width="0.8"/>
<circle cx="136.3" cy="785.7" r="2.2" fill="none" stroke="#1c1c1c" stroke-width="0.8"/>
<circle cx="136.3" cy="802.1" r="2.2" fill="none" stroke="#1c1c1c" stroke-width="0.8"/>
<circle cx="136.3" cy="807.4" r="2.2" fill="none" stroke="#1c1c1c" stroke-width="0.8"/>
<circle cx="136.3" cy="817.5" r="2.2" fill="none" stroke="#1c1c1c" stroke-width="0.8"/>
<circle cx="136.3" cy="825.8" r="2.2" fill="none" stroke="#1c1c1c" stroke-width="0.8"/>
<circle cx="133.5" cy="856" r="2.2" fill="none" stroke="#1c1c1c" stroke-width="0.8"/>
<circle cx="136" cy="858" r="2.2" fill="none" stroke="#1c1c1c" stroke-width="0.8"/>
<circle cx="139.5" cy="859" r="2.2" fill="none" stroke="#1c1c1c" stroke-width="0.8"/>
<circle cx="133.5" cy="861.4" r="2.2" fill="none" stroke="#1c1c1c" stroke-width="0.8"/>
<circle cx="174.4" cy="771.2" r="2.2" fill="none" stroke="#1c1c1c" stroke-width="0.8"/>
<circle cx="174.4" cy="778.5" r="2.2" fill="none" stroke="#1c1c1c" stroke-width="0.8"/>
<circle cx="172.8" cy="796.1" r="2.2" fill="none" stroke="#1c1c1c" stroke-width="0.8"/>
<circle cx="174.4" cy="796.1" r="2.2" fill="none" stroke="#1c1c1c" stroke-width="0.8"/>
<circle cx="176.8" cy="796.1" r="2.2" fill="none" stroke="#1c1c1c" stroke-width="0.8"/>
<circle cx="174.4" cy="815.4" r="2.2" fill="none" stroke="#1c1c1c" stroke-width="0.8"/>
<circle cx="174.4" cy="825.8" r="2.2" fill="none" stroke="#1c1c1c" stroke-width="0.8"/>
<circle cx="172" cy="857" r="2.2" fill="none" stroke="#1c1c1c" stroke-width="0.8"/>
<circle cx="174.5" cy="857" r="2.2" fill="none" stroke="#1c1c1c" stroke-width="0.8"/>
<circle cx="177" cy="857" r="2.2" fill="none" stroke="#1c1c1c" stroke-width="0.8"/>
<circle cx="172" cy="861" r="2.2" fill="none" stroke="#1c1c1c" stroke-width="0.8"/>
<circle cx="212.3" cy="797.5" r="2.2" fill="none" stroke="#1c1c1c" stroke-width="0.8"/>
<circle cx="210.8" cy="805.2" r="2.2" fill="none" stroke="#1c1c1c" stroke-width="0.8"/>
<circle cx="214" cy="805.2" r="2.2" fill="none" stroke="#1c1c1c" stroke-width="0.8"/>
<circle cx="212.3" cy="821.9" r="2.2" fill="none" stroke="#1c1c1c" stroke-width="0.8"/>
<circle cx="212.3" cy="826" r="2.2" fill="none" stroke="#1c1c1c" stroke-width="0.8"/>
<circle cx="210.5" cy="852" r="2.2" fill="none" stroke="#1c1c1c" stroke-width="0.8"/>
<circle cx="213.5" cy="852.5" r="2.2" fill="none" stroke="#1c1c1c" stroke-width="0.8"/>
<circle cx="209" cy="855.5" r="2.2" fill="none" stroke="#1c1c1c" stroke-width="0.8"/>
<circle cx="212" cy="856" r="2.2" fill="none" stroke="#1c1c1c" stroke-width="0.8"/>
<circle cx="215.5" cy="855.5" r="2.2" fill="none" stroke="#1c1c1c" stroke-width="0.8"/>
<circle cx="210" cy="859" r="2.2" fill="none" stroke="#1c1c1c" stroke-width="0.8"/>
<circle cx="214" cy="859.5" r="2.2" fill="none" stroke="#1c1c1c" stroke-width="0.8"/>
<circle cx="211.5" cy="861.4" r="2.2" fill="none" stroke="#1c1c1c" stroke-width="0.8"/>
<line x1="39.8" y1="733.4" x2="65" y2="733.4" stroke="#555" stroke-width="0.8"/>
<text x="0" y="0" font-size="5.95" text-anchor="middle" transform="translate(52.4 730.1) scale(1 1.08)">p=0.0256</text>
<line x1="79" y1="753.1" x2="104.7" y2="753.1" stroke="#555" stroke-width="0.8"/>
<text x="0" y="0" font-size="5.95" text-anchor="middle" transform="translate(91.85 749.8) scale(1 1.08)">p=0.0001</text>
<line x1="114.6" y1="770" x2="139.9" y2="770" stroke="#555" stroke-width="0.8"/>
<text x="0" y="0" font-size="5.95" text-anchor="middle" transform="translate(127.25 766.7) scale(1 1.08)">p=0.0656</text>
<line x1="153.2" y1="766.4" x2="177.9" y2="766.4" stroke="#555" stroke-width="0.8"/>
<text x="0" y="0" font-size="5.95" text-anchor="middle" transform="translate(165.55 763.1) scale(1 1.08)">p=0.0453</text>
<line x1="192.1" y1="792.7" x2="216" y2="792.7" stroke="#555" stroke-width="0.8"/>
<text x="0" y="0" font-size="5.95" text-anchor="middle" transform="translate(204.05 789.4) scale(1 1.08)">p=0.096</text>
<line x1="271.6" y1="720" x2="271.6" y2="862.2" stroke="#5e5e5e" stroke-width="1.2"/>
<line x1="271" y1="862.2" x2="455.7" y2="862.2" stroke="#5e5e5e" stroke-width="1.2"/>
<line x1="269.6" y1="862.2" x2="271.6" y2="862.2" stroke="#5e5e5e" stroke-width="1"/>
<text x="0" y="0" font-size="7.6" text-anchor="end" transform="translate(268.2 864.94) scale(1 1.08)">0</text>
<line x1="269.6" y1="833.8" x2="271.6" y2="833.8" stroke="#5e5e5e" stroke-width="1"/>
<text x="0" y="0" font-size="7.6" text-anchor="end" transform="translate(268.2 836.54) scale(1 1.08)">10<tspan font-size="4.86" dy="-3.19">1</tspan></text>
<line x1="269.6" y1="805.4" x2="271.6" y2="805.4" stroke="#5e5e5e" stroke-width="1"/>
<text x="0" y="0" font-size="7.6" text-anchor="end" transform="translate(268.2 808.14) scale(1 1.08)">10<tspan font-size="4.86" dy="-3.19">2</tspan></text>
<line x1="269.6" y1="777" x2="271.6" y2="777" stroke="#5e5e5e" stroke-width="1"/>
<text x="0" y="0" font-size="7.6" text-anchor="end" transform="translate(268.2 779.74) scale(1 1.08)">10<tspan font-size="4.86" dy="-3.19">3</tspan></text>
<line x1="269.6" y1="748.6" x2="271.6" y2="748.6" stroke="#5e5e5e" stroke-width="1"/>
<text x="0" y="0" font-size="7.6" text-anchor="end" transform="translate(268.2 751.34) scale(1 1.08)">10<tspan font-size="4.86" dy="-3.19">4</tspan></text>
<line x1="269.6" y1="720.2" x2="271.6" y2="720.2" stroke="#5e5e5e" stroke-width="1"/>
<text x="0" y="0" font-size="7.6" text-anchor="end" transform="translate(268.2 722.94) scale(1 1.08)">10<tspan font-size="4.86" dy="-3.19">5</tspan></text>
<line x1="270.4" y1="853.65" x2="271.6" y2="853.65" stroke="#5e5e5e" stroke-width="0.6"/>
<line x1="270.4" y1="845.1" x2="271.6" y2="845.1" stroke="#5e5e5e" stroke-width="0.6"/>
<line x1="270.4" y1="840.1" x2="271.6" y2="840.1" stroke="#5e5e5e" stroke-width="0.6"/>
<line x1="270.4" y1="836.55" x2="271.6" y2="836.55" stroke="#5e5e5e" stroke-width="0.6"/>
<line x1="270.4" y1="825.25" x2="271.6" y2="825.25" stroke="#5e5e5e" stroke-width="0.6"/>
<line x1="270.4" y1="816.7" x2="271.6" y2="816.7" stroke="#5e5e5e" stroke-width="0.6"/>
<line x1="270.4" y1="811.7" x2="271.6" y2="811.7" stroke="#5e5e5e" stroke-width="0.6"/>
<line x1="270.4" y1="808.15" x2="271.6" y2="808.15" stroke="#5e5e5e" stroke-width="0.6"/>
<line x1="270.4" y1="796.85" x2="271.6" y2="796.85" stroke="#5e5e5e" stroke-width="0.6"/>
<line x1="270.4" y1="788.3" x2="271.6" y2="788.3" stroke="#5e5e5e" stroke-width="0.6"/>
<line x1="270.4" y1="783.3" x2="271.6" y2="783.3" stroke="#5e5e5e" stroke-width="0.6"/>
<line x1="270.4" y1="779.75" x2="271.6" y2="779.75" stroke="#5e5e5e" stroke-width="0.6"/>
<line x1="270.4" y1="768.45" x2="271.6" y2="768.45" stroke="#5e5e5e" stroke-width="0.6"/>
<line x1="270.4" y1="759.9" x2="271.6" y2="759.9" stroke="#5e5e5e" stroke-width="0.6"/>
<line x1="270.4" y1="754.9" x2="271.6" y2="754.9" stroke="#5e5e5e" stroke-width="0.6"/>
<line x1="270.4" y1="751.35" x2="271.6" y2="751.35" stroke="#5e5e5e" stroke-width="0.6"/>
<line x1="270.4" y1="740.05" x2="271.6" y2="740.05" stroke="#5e5e5e" stroke-width="0.6"/>
<line x1="270.4" y1="731.5" x2="271.6" y2="731.5" stroke="#5e5e5e" stroke-width="0.6"/>
<line x1="270.4" y1="726.5" x2="271.6" y2="726.5" stroke="#5e5e5e" stroke-width="0.6"/>
<line x1="270.4" y1="722.95" x2="271.6" y2="722.95" stroke="#5e5e5e" stroke-width="0.6"/>
<line x1="288" y1="862.2" x2="288" y2="863.4" stroke="#5e5e5e" stroke-width="0.8"/>
<text x="0" y="0" font-size="7.8" text-anchor="middle" transform="translate(288 872.3) scale(1 1.08)">3</text>
<line x1="326.1" y1="862.2" x2="326.1" y2="863.4" stroke="#5e5e5e" stroke-width="0.8"/>
<text x="0" y="0" font-size="7.8" text-anchor="middle" transform="translate(326.1 872.3) scale(1 1.08)">7</text>
<line x1="364.2" y1="862.2" x2="364.2" y2="863.4" stroke="#5e5e5e" stroke-width="0.8"/>
<text x="0" y="0" font-size="7.8" text-anchor="middle" transform="translate(364.2 872.3) scale(1 1.08)">21</text>
<line x1="402.3" y1="862.2" x2="402.3" y2="863.4" stroke="#5e5e5e" stroke-width="0.8"/>
<text x="0" y="0" font-size="7.8" text-anchor="middle" transform="translate(402.3 872.3) scale(1 1.08)">35</text>
<line x1="440.4" y1="862.2" x2="440.4" y2="863.4" stroke="#5e5e5e" stroke-width="0.8"/>
<text x="0" y="0" font-size="7.8" text-anchor="middle" transform="translate(440.4 872.3) scale(1 1.08)">56</text>
<text x="0" y="0" font-size="7.6" text-anchor="middle" transform="translate(363.65 882) scale(1 1.08)">Days post infection</text>
<text x="0" y="0" font-size="7.18" text-anchor="middle" transform="translate(252.4 787.9) scale(1 1.08) rotate(-90)">Recoverable IFU</text>
<circle cx="409.9" cy="721.4" r="2" fill="#1c1c1c"/>
<circle cx="409.9" cy="731.4" r="1.9" fill="none" stroke="#1c1c1c" stroke-width="0.7"/>
<text x="0" y="0" font-size="5.95" transform="translate(415 723.5) scale(1 1.08)">C57BL/6</text>
<text x="0" y="0" font-size="5.95" transform="translate(415 733.5) scale(1 1.08)">IL-1β<tspan font-size="4" dy="-2.2">-/-</tspan><tspan dy="2.2">IL-18</tspan><tspan font-size="4" dy="-2.2">-/-</tspan></text>
<line x1="280.9" y1="776.5" x2="280.9" y2="786.5" stroke="#3a3a3a" stroke-width="0.8"/>
<line x1="278.7" y1="776.5" x2="283.1" y2="776.5" stroke="#3a3a3a" stroke-width="0.8"/>
<line x1="276.9" y1="781.5" x2="284.9" y2="781.5" stroke="#3a3a3a" stroke-width="0.8"/>
<line x1="278.7" y1="786.5" x2="283.1" y2="786.5" stroke="#3a3a3a" stroke-width="0.8"/>
<line x1="295" y1="734.9" x2="295" y2="773.4" stroke="#3a3a3a" stroke-width="0.8"/>
<line x1="292.4" y1="734.9" x2="297.6" y2="734.9" stroke="#3a3a3a" stroke-width="0.8"/>
<line x1="290.2" y1="742.9" x2="299.8" y2="742.9" stroke="#3a3a3a" stroke-width="0.8"/>
<line x1="292.4" y1="773.4" x2="297.6" y2="773.4" stroke="#3a3a3a" stroke-width="0.8"/>
<line x1="319" y1="825.4" x2="319" y2="839.9" stroke="#3a3a3a" stroke-width="0.8"/>
<line x1="316.2" y1="825.4" x2="321.8" y2="825.4" stroke="#3a3a3a" stroke-width="0.8"/>
<line x1="314" y1="839.9" x2="324" y2="839.9" stroke="#3a3a3a" stroke-width="0.8"/>
<line x1="333.2" y1="801" x2="333.2" y2="837" stroke="#3a3a3a" stroke-width="0.8"/>
<line x1="330.6" y1="801" x2="335.8" y2="801" stroke="#3a3a3a" stroke-width="0.8"/>
<line x1="328.4" y1="811" x2="338" y2="811" stroke="#3a3a3a" stroke-width="0.8"/>
<line x1="330.6" y1="837" x2="335.8" y2="837" stroke="#3a3a3a" stroke-width="0.8"/>
<line x1="357" y1="825.4" x2="357" y2="836.5" stroke="#3a3a3a" stroke-width="0.8"/>
<line x1="354.5" y1="825.4" x2="359.5" y2="825.4" stroke="#3a3a3a" stroke-width="0.8"/>
<line x1="352.2" y1="836.5" x2="361.8" y2="836.5" stroke="#3a3a3a" stroke-width="0.8"/>
<line x1="371.1" y1="804.1" x2="371.1" y2="810.5" stroke="#3a3a3a" stroke-width="0.8"/>
<line x1="368.6" y1="804.1" x2="373.6" y2="804.1" stroke="#3a3a3a" stroke-width="0.8"/>
<line x1="366.5" y1="810.5" x2="375.7" y2="810.5" stroke="#3a3a3a" stroke-width="0.8"/>
<line x1="395.2" y1="814.5" x2="395.2" y2="826" stroke="#3a3a3a" stroke-width="0.8"/>
<line x1="392.8" y1="814.5" x2="397.6" y2="814.5" stroke="#3a3a3a" stroke-width="0.8"/>
<line x1="390.7" y1="826" x2="399.7" y2="826" stroke="#3a3a3a" stroke-width="0.8"/>
<line x1="409.3" y1="802.6" x2="409.3" y2="813.5" stroke="#3a3a3a" stroke-width="0.8"/>
<line x1="406.7" y1="802.6" x2="411.9" y2="802.6" stroke="#3a3a3a" stroke-width="0.8"/>
<line x1="404.8" y1="813.5" x2="413.8" y2="813.5" stroke="#3a3a3a" stroke-width="0.8"/>
<line x1="433.4" y1="820.4" x2="433.4" y2="833.4" stroke="#3a3a3a" stroke-width="0.8"/>
<line x1="431.3" y1="820.4" x2="435.5" y2="820.4" stroke="#3a3a3a" stroke-width="0.8"/>
<line x1="428.6" y1="833.4" x2="438.2" y2="833.4" stroke="#3a3a3a" stroke-width="0.8"/>
<line x1="447.4" y1="833.8" x2="447.4" y2="844.5" stroke="#3a3a3a" stroke-width="0.8"/>
<line x1="445" y1="833.8" x2="449.8" y2="833.8" stroke="#3a3a3a" stroke-width="0.8"/>
<line x1="442.7" y1="844.5" x2="452.1" y2="844.5" stroke="#3a3a3a" stroke-width="0.8"/>
<circle cx="281.7" cy="771.3" r="2.1" fill="#1c1c1c"/>
<circle cx="279.6" cy="773.9" r="2.1" fill="#1c1c1c"/>
<circle cx="283.8" cy="777.8" r="2.1" fill="#1c1c1c"/>
<circle cx="277.7" cy="779.9" r="2.1" fill="#1c1c1c"/>
<circle cx="280.9" cy="780.7" r="2.1" fill="#1c1c1c"/>
<circle cx="277.7" cy="783.6" r="2.1" fill="#1c1c1c"/>
<circle cx="283.8" cy="783.9" r="2.1" fill="#1c1c1c"/>
<circle cx="281.7" cy="787.4" r="2.1" fill="#1c1c1c"/>
<circle cx="279.6" cy="791.1" r="2.1" fill="#1c1c1c"/>
<circle cx="319" cy="815.7" r="2.1" fill="#1c1c1c"/>
<circle cx="319" cy="848.3" r="2.1" fill="#1c1c1c"/>
<circle cx="319" cy="850.7" r="2.1" fill="#1c1c1c"/>
<circle cx="317" cy="852.5" r="2.1" fill="#1c1c1c"/>
<circle cx="320.5" cy="853" r="2.1" fill="#1c1c1c"/>
<circle cx="316" cy="855.5" r="2.1" fill="#1c1c1c"/>
<circle cx="319.5" cy="856" r="2.1" fill="#1c1c1c"/>
<circle cx="322.5" cy="855.5" r="2.1" fill="#1c1c1c"/>
<circle cx="315.5" cy="859" r="2.1" fill="#1c1c1c"/>
<circle cx="318.5" cy="859.5" r="2.1" fill="#1c1c1c"/>
<circle cx="321.5" cy="859.5" r="2.1" fill="#1c1c1c"/>
<circle cx="358.1" cy="818.5" r="2.1" fill="#1c1c1c"/>
<circle cx="355.4" cy="822.1" r="2.1" fill="#1c1c1c"/>
<circle cx="357" cy="836.5" r="2.1" fill="#1c1c1c"/>
<circle cx="353.6" cy="848.3" r="2.1" fill="#1c1c1c"/>
<circle cx="356" cy="848.3" r="2.1" fill="#1c1c1c"/>
<circle cx="358.4" cy="848.3" r="2.1" fill="#1c1c1c"/>
<circle cx="360.8" cy="848.3" r="2.1" fill="#1c1c1c"/>
<circle cx="357" cy="854.2" r="2.1" fill="#1c1c1c"/>
<circle cx="353.6" cy="862" r="2.1" fill="#1c1c1c"/>
<circle cx="356" cy="862" r="2.1" fill="#1c1c1c"/>
<circle cx="358.4" cy="862" r="2.1" fill="#1c1c1c"/>
<circle cx="360.8" cy="862" r="2.1" fill="#1c1c1c"/>
<circle cx="395.2" cy="807.3" r="2.1" fill="#1c1c1c"/>
<circle cx="395.2" cy="812.1" r="2.1" fill="#1c1c1c"/>
<circle cx="395.2" cy="819.3" r="2.1" fill="#1c1c1c"/>
<circle cx="395.2" cy="841.8" r="2.1" fill="#1c1c1c"/>
<circle cx="392.3" cy="854.2" r="2.1" fill="#1c1c1c"/>
<circle cx="398" cy="854.2" r="2.1" fill="#1c1c1c"/>
<circle cx="395" cy="855.5" r="2.1" fill="#1c1c1c"/>
<circle cx="392.3" cy="858.7" r="2.1" fill="#1c1c1c"/>
<circle cx="433.4" cy="811.4" r="2.1" fill="#1c1c1c"/>
<circle cx="431.3" cy="829.8" r="2.1" fill="#1c1c1c"/>
<circle cx="434.8" cy="829.8" r="2.1" fill="#1c1c1c"/>
<circle cx="433.4" cy="836.5" r="2.1" fill="#1c1c1c"/>
<circle cx="433.4" cy="848" r="2.1" fill="#1c1c1c"/>
<circle cx="430.2" cy="853.2" r="2.1" fill="#1c1c1c"/>
<circle cx="434.8" cy="856.4" r="2.1" fill="#1c1c1c"/>
<circle cx="430.2" cy="858.5" r="2.1" fill="#1c1c1c"/>
<circle cx="295" cy="729" r="2.2" fill="none" stroke="#1c1c1c" stroke-width="0.8"/>
<circle cx="292.1" cy="734.4" r="2.2" fill="none" stroke="#1c1c1c" stroke-width="0.8"/>
<circle cx="296.9" cy="735.7" r="2.2" fill="none" stroke="#1c1c1c" stroke-width="0.8"/>
<circle cx="298.5" cy="737.6" r="2.2" fill="none" stroke="#1c1c1c" stroke-width="0.8"/>
<circle cx="292.1" cy="740.2" r="2.2" fill="none" stroke="#1c1c1c" stroke-width="0.8"/>
<circle cx="296.1" cy="740.5" r="2.2" fill="none" stroke="#1c1c1c" stroke-width="0.8"/>
<circle cx="298.2" cy="743.4" r="2.2" fill="none" stroke="#1c1c1c" stroke-width="0.8"/>
<circle cx="292.1" cy="745.3" r="2.2" fill="none" stroke="#1c1c1c" stroke-width="0.8"/>
<circle cx="295" cy="755" r="2.2" fill="none" stroke="#1c1c1c" stroke-width="0.8"/>
<circle cx="295" cy="759.8" r="2.2" fill="none" stroke="#1c1c1c" stroke-width="0.8"/>
<circle cx="295" cy="767.5" r="2.2" fill="none" stroke="#1c1c1c" stroke-width="0.8"/>
<circle cx="295" cy="778.3" r="2.2" fill="none" stroke="#1c1c1c" stroke-width="0.8"/>
<circle cx="330.5" cy="800.9" r="2.2" fill="none" stroke="#1c1c1c" stroke-width="0.8"/>
<circle cx="333.7" cy="800.9" r="2.2" fill="none" stroke="#1c1c1c" stroke-width="0.8"/>
<circle cx="336.1" cy="803.8" r="2.2" fill="none" stroke="#1c1c1c" stroke-width="0.8"/>
<circle cx="333.2" cy="807.6" r="2.2" fill="none" stroke="#1c1c1c" stroke-width="0.8"/>
<circle cx="333.2" cy="812.9" r="2.2" fill="none" stroke="#1c1c1c" stroke-width="0.8"/>
<circle cx="333.2" cy="817.3" r="2.2" fill="none" stroke="#1c1c1c" stroke-width="0.8"/>
<circle cx="333.2" cy="824.6" r="2.2" fill="none" stroke="#1c1c1c" stroke-width="0.8"/>
<circle cx="336.1" cy="830.1" r="2.2" fill="none" stroke="#1c1c1c" stroke-width="0.8"/>
<circle cx="333.2" cy="833" r="2.2" fill="none" stroke="#1c1c1c" stroke-width="0.8"/>
<circle cx="333.2" cy="848.3" r="2.2" fill="none" stroke="#1c1c1c" stroke-width="0.8"/>
<circle cx="371.1" cy="799.3" r="2.2" fill="none" stroke="#1c1c1c" stroke-width="0.8"/>
<circle cx="371.1" cy="804.9" r="2.2" fill="none" stroke="#1c1c1c" stroke-width="0.8"/>
<circle cx="368.3" cy="811.3" r="2.2" fill="none" stroke="#1c1c1c" stroke-width="0.8"/>
<circle cx="371.1" cy="811.3" r="2.2" fill="none" stroke="#1c1c1c" stroke-width="0.8"/>
<circle cx="374.2" cy="811.3" r="2.2" fill="none" stroke="#1c1c1c" stroke-width="0.8"/>
<circle cx="369.9" cy="823.4" r="2.2" fill="none" stroke="#1c1c1c" stroke-width="0.8"/>
<circle cx="372.6" cy="823.4" r="2.2" fill="none" stroke="#1c1c1c" stroke-width="0.8"/>
<circle cx="371.1" cy="848.3" r="2.2" fill="none" stroke="#1c1c1c" stroke-width="0.8"/>
<circle cx="369.5" cy="862" r="2.2" fill="none" stroke="#1c1c1c" stroke-width="0.8"/>
<circle cx="372.5" cy="862" r="2.2" fill="none" stroke="#1c1c1c" stroke-width="0.8"/>
<circle cx="409.3" cy="795.3" r="2.2" fill="none" stroke="#1c1c1c" stroke-width="0.8"/>
<circle cx="409.3" cy="809.3" r="2.2" fill="none" stroke="#1c1c1c" stroke-width="0.8"/>
<circle cx="406.2" cy="810.3" r="2.2" fill="none" stroke="#1c1c1c" stroke-width="0.8"/>
<circle cx="412.4" cy="810.3" r="2.2" fill="none" stroke="#1c1c1c" stroke-width="0.8"/>
<circle cx="406.5" cy="813.5" r="2.2" fill="none" stroke="#1c1c1c" stroke-width="0.8"/>
<circle cx="409.3" cy="812.5" r="2.2" fill="none" stroke="#1c1c1c" stroke-width="0.8"/>
<circle cx="412" cy="814" r="2.2" fill="none" stroke="#1c1c1c" stroke-width="0.8"/>
<circle cx="409.3" cy="817.3" r="2.2" fill="none" stroke="#1c1c1c" stroke-width="0.8"/>
<circle cx="407.2" cy="825.6" r="2.2" fill="none" stroke="#1c1c1c" stroke-width="0.8"/>
<circle cx="411" cy="825.6" r="2.2" fill="none" stroke="#1c1c1c" stroke-width="0.8"/>
<circle cx="409.3" cy="848.4" r="2.2" fill="none" stroke="#1c1c1c" stroke-width="0.8"/>
<circle cx="448" cy="829.8" r="2.2" fill="none" stroke="#1c1c1c" stroke-width="0.8"/>
<circle cx="446.5" cy="834" r="2.2" fill="none" stroke="#1c1c1c" stroke-width="0.8"/>
<circle cx="447.5" cy="837.5" r="2.2" fill="none" stroke="#1c1c1c" stroke-width="0.8"/>
<circle cx="448" cy="848.4" r="2.2" fill="none" stroke="#1c1c1c" stroke-width="0.8"/>
<circle cx="445" cy="856.5" r="2.2" fill="none" stroke="#1c1c1c" stroke-width="0.8"/>
<circle cx="448.5" cy="857" r="2.2" fill="none" stroke="#1c1c1c" stroke-width="0.8"/>
<circle cx="451" cy="858" r="2.2" fill="none" stroke="#1c1c1c" stroke-width="0.8"/>
<circle cx="444.5" cy="860" r="2.2" fill="none" stroke="#1c1c1c" stroke-width="0.8"/>
<circle cx="447.5" cy="861" r="2.2" fill="none" stroke="#1c1c1c" stroke-width="0.8"/>
<circle cx="450.5" cy="861.5" r="2.2" fill="none" stroke="#1c1c1c" stroke-width="0.8"/>
<line x1="276.9" y1="724.1" x2="301.4" y2="724.1" stroke="#555" stroke-width="0.8"/>
<text x="0" y="0" font-size="5.95" text-anchor="middle" transform="translate(289.15 720.8) scale(1 1.08)">p=0.00001</text>
<line x1="312" y1="795.3" x2="336.9" y2="795.3" stroke="#555" stroke-width="0.8"/>
<text x="0" y="0" font-size="5.95" text-anchor="middle" transform="translate(324.45 792) scale(1 1.08)">p=0.00002</text>
<line x1="350.1" y1="794.1" x2="374.7" y2="794.1" stroke="#555" stroke-width="0.8"/>
<text x="0" y="0" font-size="5.95" text-anchor="middle" transform="translate(362.4 790.8) scale(1 1.08)">p=0.0063</text>
<line x1="388" y1="790.5" x2="412.4" y2="790.5" stroke="#555" stroke-width="0.8"/>
<text x="0" y="0" font-size="5.95" text-anchor="middle" transform="translate(400.2 787.2) scale(1 1.08)">p=0.0174</text>
<line x1="431.9" y1="806.2" x2="455.8" y2="806.2" stroke="#555" stroke-width="0.8"/>
<text x="0" y="0" font-size="5.95" text-anchor="middle" transform="translate(443.85 802.9) scale(1 1.08)">p=0.2705</text>
<line x1="499.5" y1="720.5" x2="499.5" y2="862" stroke="#5e5e5e" stroke-width="1.2"/>
<line x1="498.9" y1="862" x2="685" y2="862" stroke="#5e5e5e" stroke-width="1.2"/>
<line x1="497.5" y1="862" x2="499.5" y2="862" stroke="#5e5e5e" stroke-width="1"/>
<text x="0" y="0" font-size="8.13" text-anchor="end" transform="translate(496.1 864.93) scale(1 1.08)">0</text>
<line x1="497.5" y1="826.7" x2="499.5" y2="826.7" stroke="#5e5e5e" stroke-width="1"/>
<text x="0" y="0" font-size="8.13" text-anchor="end" transform="translate(496.1 829.63) scale(1 1.08)">10<tspan font-size="5.2" dy="-3.42">1</tspan></text>
<line x1="497.5" y1="791.4" x2="499.5" y2="791.4" stroke="#5e5e5e" stroke-width="1"/>
<text x="0" y="0" font-size="8.13" text-anchor="end" transform="translate(496.1 794.33) scale(1 1.08)">10<tspan font-size="5.2" dy="-3.42">2</tspan></text>
<line x1="497.5" y1="756.1" x2="499.5" y2="756.1" stroke="#5e5e5e" stroke-width="1"/>
<text x="0" y="0" font-size="8.13" text-anchor="end" transform="translate(496.1 759.03) scale(1 1.08)">10<tspan font-size="5.2" dy="-3.42">3</tspan></text>
<line x1="497.5" y1="720.8" x2="499.5" y2="720.8" stroke="#5e5e5e" stroke-width="1"/>
<text x="0" y="0" font-size="8.13" text-anchor="end" transform="translate(496.1 723.73) scale(1 1.08)">10<tspan font-size="5.2" dy="-3.42">4</tspan></text>
<line x1="498.3" y1="851.37" x2="499.5" y2="851.37" stroke="#5e5e5e" stroke-width="0.6"/>
<line x1="498.3" y1="840.75" x2="499.5" y2="840.75" stroke="#5e5e5e" stroke-width="0.6"/>
<line x1="498.3" y1="834.53" x2="499.5" y2="834.53" stroke="#5e5e5e" stroke-width="0.6"/>
<line x1="498.3" y1="830.12" x2="499.5" y2="830.12" stroke="#5e5e5e" stroke-width="0.6"/>
<line x1="498.3" y1="816.07" x2="499.5" y2="816.07" stroke="#5e5e5e" stroke-width="0.6"/>
<line x1="498.3" y1="805.45" x2="499.5" y2="805.45" stroke="#5e5e5e" stroke-width="0.6"/>
<line x1="498.3" y1="799.23" x2="499.5" y2="799.23" stroke="#5e5e5e" stroke-width="0.6"/>
<line x1="498.3" y1="794.82" x2="499.5" y2="794.82" stroke="#5e5e5e" stroke-width="0.6"/>
<line x1="498.3" y1="780.77" x2="499.5" y2="780.77" stroke="#5e5e5e" stroke-width="0.6"/>
<line x1="498.3" y1="770.15" x2="499.5" y2="770.15" stroke="#5e5e5e" stroke-width="0.6"/>
<line x1="498.3" y1="763.93" x2="499.5" y2="763.93" stroke="#5e5e5e" stroke-width="0.6"/>
<line x1="498.3" y1="759.52" x2="499.5" y2="759.52" stroke="#5e5e5e" stroke-width="0.6"/>
<line x1="498.3" y1="745.47" x2="499.5" y2="745.47" stroke="#5e5e5e" stroke-width="0.6"/>
<line x1="498.3" y1="734.85" x2="499.5" y2="734.85" stroke="#5e5e5e" stroke-width="0.6"/>
<line x1="498.3" y1="728.63" x2="499.5" y2="728.63" stroke="#5e5e5e" stroke-width="0.6"/>
<line x1="498.3" y1="724.22" x2="499.5" y2="724.22" stroke="#5e5e5e" stroke-width="0.6"/>
<line x1="516.5" y1="862" x2="516.5" y2="863.2" stroke="#5e5e5e" stroke-width="0.8"/>
<text x="0" y="0" font-size="8.35" text-anchor="middle" transform="translate(516.5 872.8) scale(1 1.08)">3</text>
<line x1="554.4" y1="862" x2="554.4" y2="863.2" stroke="#5e5e5e" stroke-width="0.8"/>
<text x="0" y="0" font-size="8.35" text-anchor="middle" transform="translate(554.4 872.8) scale(1 1.08)">7</text>
<line x1="592.3" y1="862" x2="592.3" y2="863.2" stroke="#5e5e5e" stroke-width="0.8"/>
<text x="0" y="0" font-size="8.35" text-anchor="middle" transform="translate(592.3 872.8) scale(1 1.08)">21</text>
<line x1="630.2" y1="862" x2="630.2" y2="863.2" stroke="#5e5e5e" stroke-width="0.8"/>
<text x="0" y="0" font-size="8.35" text-anchor="middle" transform="translate(630.2 872.8) scale(1 1.08)">35</text>
<line x1="668.1" y1="862" x2="668.1" y2="863.2" stroke="#5e5e5e" stroke-width="0.8"/>
<text x="0" y="0" font-size="8.35" text-anchor="middle" transform="translate(668.1 872.8) scale(1 1.08)">56</text>
<text x="0" y="0" font-size="8.13" text-anchor="middle" transform="translate(592.25 882.3) scale(1 1.08)">Days post infection</text>
<text x="0" y="0" font-size="7.69" text-anchor="middle" transform="translate(482.8 786.4) scale(1 1.08) rotate(-90)">Recoverable IFU</text>
<circle cx="649.7" cy="725.8" r="2" fill="#1c1c1c"/>
<circle cx="649.7" cy="736.3" r="1.9" fill="none" stroke="#1c1c1c" stroke-width="0.7"/>
<text x="0" y="0" font-size="5.95" transform="translate(654.8 727.9) scale(1 1.08)">C57BL/6</text>
<text x="0" y="0" font-size="5.95" transform="translate(654.8 738.4) scale(1 1.08)">IL-1R<tspan font-size="4" dy="-2.2">-/-</tspan></text>
<line x1="509.6" y1="755" x2="509.6" y2="766" stroke="#3a3a3a" stroke-width="0.8"/>
<line x1="507.4" y1="755" x2="511.8" y2="755" stroke="#3a3a3a" stroke-width="0.8"/>
<line x1="505.4" y1="760.5" x2="513.8" y2="760.5" stroke="#3a3a3a" stroke-width="0.8"/>
<line x1="507.4" y1="766" x2="511.8" y2="766" stroke="#3a3a3a" stroke-width="0.8"/>
<line x1="523.4" y1="743.4" x2="523.4" y2="755.4" stroke="#3a3a3a" stroke-width="0.8"/>
<line x1="520.8" y1="743.4" x2="526" y2="743.4" stroke="#3a3a3a" stroke-width="0.8"/>
<line x1="518.6" y1="747.7" x2="528.2" y2="747.7" stroke="#3a3a3a" stroke-width="0.8"/>
<line x1="520.8" y1="755.4" x2="526" y2="755.4" stroke="#3a3a3a" stroke-width="0.8"/>
<line x1="547.3" y1="817.3" x2="547.3" y2="835.4" stroke="#3a3a3a" stroke-width="0.8"/>
<line x1="545.1" y1="817.3" x2="549.5" y2="817.3" stroke="#3a3a3a" stroke-width="0.8"/>
<line x1="542.7" y1="835.4" x2="551.9" y2="835.4" stroke="#3a3a3a" stroke-width="0.8"/>
<line x1="561.6" y1="780" x2="561.6" y2="790.3" stroke="#3a3a3a" stroke-width="0.8"/>
<line x1="559.2" y1="780" x2="564" y2="780" stroke="#3a3a3a" stroke-width="0.8"/>
<line x1="557" y1="790.3" x2="566.2" y2="790.3" stroke="#3a3a3a" stroke-width="0.8"/>
<line x1="585.4" y1="816.6" x2="585.4" y2="830.3" stroke="#3a3a3a" stroke-width="0.8"/>
<line x1="583.3" y1="816.6" x2="587.5" y2="816.6" stroke="#3a3a3a" stroke-width="0.8"/>
<line x1="580.8" y1="830.3" x2="590" y2="830.3" stroke="#3a3a3a" stroke-width="0.8"/>
<line x1="599.4" y1="809.7" x2="599.4" y2="846.2" stroke="#3a3a3a" stroke-width="0.8"/>
<line x1="597.2" y1="809.7" x2="601.6" y2="809.7" stroke="#3a3a3a" stroke-width="0.8"/>
<line x1="594.8" y1="818.5" x2="604" y2="818.5" stroke="#3a3a3a" stroke-width="0.8"/>
<line x1="597.2" y1="846.2" x2="601.6" y2="846.2" stroke="#3a3a3a" stroke-width="0.8"/>
<line x1="623.1" y1="802.5" x2="623.1" y2="817.4" stroke="#3a3a3a" stroke-width="0.8"/>
<line x1="620.7" y1="802.5" x2="625.5" y2="802.5" stroke="#3a3a3a" stroke-width="0.8"/>
<line x1="618.4" y1="817.4" x2="627.8" y2="817.4" stroke="#3a3a3a" stroke-width="0.8"/>
<line x1="637.3" y1="794.1" x2="637.3" y2="807.5" stroke="#3a3a3a" stroke-width="0.8"/>
<line x1="635.1" y1="794.1" x2="639.5" y2="794.1" stroke="#3a3a3a" stroke-width="0.8"/>
<line x1="632.6" y1="807.5" x2="642" y2="807.5" stroke="#3a3a3a" stroke-width="0.8"/>
<line x1="661" y1="810.4" x2="661" y2="825.4" stroke="#3a3a3a" stroke-width="0.8"/>
<line x1="658.3" y1="810.4" x2="663.7" y2="810.4" stroke="#3a3a3a" stroke-width="0.8"/>
<line x1="656" y1="825.4" x2="666" y2="825.4" stroke="#3a3a3a" stroke-width="0.8"/>
<line x1="675.3" y1="816.5" x2="675.3" y2="832.4" stroke="#3a3a3a" stroke-width="0.8"/>
<line x1="672.9" y1="816.5" x2="677.7" y2="816.5" stroke="#3a3a3a" stroke-width="0.8"/>
<line x1="670.3" y1="832.4" x2="680.3" y2="832.4" stroke="#3a3a3a" stroke-width="0.8"/>
<circle cx="510.1" cy="749" r="2.1" fill="#1c1c1c"/>
<circle cx="508" cy="752.2" r="2.1" fill="#1c1c1c"/>
<circle cx="510.1" cy="757.5" r="2.1" fill="#1c1c1c"/>
<circle cx="506.1" cy="759.7" r="2.1" fill="#1c1c1c"/>
<circle cx="512.2" cy="761.8" r="2.1" fill="#1c1c1c"/>
<circle cx="508" cy="763" r="2.1" fill="#1c1c1c"/>
<circle cx="510.1" cy="763.4" r="2.1" fill="#1c1c1c"/>
<circle cx="506.1" cy="764.6" r="2.1" fill="#1c1c1c"/>
<circle cx="510.5" cy="766" r="2.1" fill="#1c1c1c"/>
<circle cx="509" cy="769.4" r="2.1" fill="#1c1c1c"/>
<circle cx="509" cy="773.9" r="2.1" fill="#1c1c1c"/>
<circle cx="547" cy="804.4" r="2.1" fill="#1c1c1c"/>
<circle cx="547.3" cy="845" r="2.1" fill="#1c1c1c"/>
<circle cx="546" cy="854.7" r="2.1" fill="#1c1c1c"/>
<circle cx="548.5" cy="855" r="2.1" fill="#1c1c1c"/>
<circle cx="545" cy="857.5" r="2.1" fill="#1c1c1c"/>
<circle cx="547.5" cy="858" r="2.1" fill="#1c1c1c"/>
<circle cx="550" cy="858" r="2.1" fill="#1c1c1c"/>
<circle cx="544" cy="861" r="2.1" fill="#1c1c1c"/>
<circle cx="546.5" cy="862" r="2.1" fill="#1c1c1c"/>
<circle cx="549" cy="862" r="2.1" fill="#1c1c1c"/>
<circle cx="551" cy="861.5" r="2.1" fill="#1c1c1c"/>
<circle cx="586.2" cy="808.9" r="2.1" fill="#1c1c1c"/>
<circle cx="583.8" cy="812.9" r="2.1" fill="#1c1c1c"/>
<circle cx="585.4" cy="830.3" r="2.1" fill="#1c1c1c"/>
<circle cx="582.2" cy="845" r="2.1" fill="#1c1c1c"/>
<circle cx="584.3" cy="845" r="2.1" fill="#1c1c1c"/>
<circle cx="586.4" cy="845" r="2.1" fill="#1c1c1c"/>
<circle cx="588.6" cy="845" r="2.1" fill="#1c1c1c"/>
<circle cx="581.5" cy="862" r="2.1" fill="#1c1c1c"/>
<circle cx="583.5" cy="862" r="2.1" fill="#1c1c1c"/>
<circle cx="585.5" cy="862" r="2.1" fill="#1c1c1c"/>
<circle cx="587.5" cy="862" r="2.1" fill="#1c1c1c"/>
<circle cx="589.5" cy="862" r="2.1" fill="#1c1c1c"/>
<circle cx="623.1" cy="794.1" r="2.1" fill="#1c1c1c"/>
<circle cx="623.1" cy="800.1" r="2.1" fill="#1c1c1c"/>
<circle cx="623.1" cy="809.7" r="2.1" fill="#1c1c1c"/>
<circle cx="623.1" cy="837.3" r="2.1" fill="#1c1c1c"/>
<circle cx="623" cy="854" r="2.1" fill="#1c1c1c"/>
<circle cx="621" cy="857" r="2.1" fill="#1c1c1c"/>
<circle cx="625" cy="857.5" r="2.1" fill="#1c1c1c"/>
<circle cx="619.5" cy="860.5" r="2.1" fill="#1c1c1c"/>
<circle cx="622.5" cy="861" r="2.1" fill="#1c1c1c"/>
<circle cx="625.5" cy="861" r="2.1" fill="#1c1c1c"/>
<circle cx="628" cy="861.5" r="2.1" fill="#1c1c1c"/>
<circle cx="661" cy="799.1" r="2.1" fill="#1c1c1c"/>
<circle cx="658.5" cy="823.8" r="2.1" fill="#1c1c1c"/>
<circle cx="663.8" cy="823.8" r="2.1" fill="#1c1c1c"/>
<circle cx="661" cy="830.2" r="2.1" fill="#1c1c1c"/>
<circle cx="661" cy="845.2" r="2.1" fill="#1c1c1c"/>
<circle cx="661" cy="851.2" r="2.1" fill="#1c1c1c"/>
<circle cx="658.5" cy="857.5" r="2.1" fill="#1c1c1c"/>
<circle cx="663.8" cy="855.5" r="2.1" fill="#1c1c1c"/>
<circle cx="658.5" cy="862" r="2.1" fill="#1c1c1c"/>
<circle cx="663.8" cy="861" r="2.1" fill="#1c1c1c"/>
<circle cx="523.4" cy="740.1" r="2.2" fill="none" stroke="#1c1c1c" stroke-width="0.8"/>
<circle cx="520.5" cy="743.7" r="2.2" fill="none" stroke="#1c1c1c" stroke-width="0.8"/>
<circle cx="526.6" cy="743.7" r="2.2" fill="none" stroke="#1c1c1c" stroke-width="0.8"/>
<circle cx="523.4" cy="745" r="2.2" fill="none" stroke="#1c1c1c" stroke-width="0.8"/>
<circle cx="520.5" cy="748.9" r="2.2" fill="none" stroke="#1c1c1c" stroke-width="0.8"/>
<circle cx="526.6" cy="748.9" r="2.2" fill="none" stroke="#1c1c1c" stroke-width="0.8"/>
<circle cx="523.4" cy="751.4" r="2.2" fill="none" stroke="#1c1c1c" stroke-width="0.8"/>
<circle cx="520.5" cy="753" r="2.2" fill="none" stroke="#1c1c1c" stroke-width="0.8"/>
<circle cx="526.6" cy="754" r="2.2" fill="none" stroke="#1c1c1c" stroke-width="0.8"/>
<circle cx="523.4" cy="755.4" r="2.2" fill="none" stroke="#1c1c1c" stroke-width="0.8"/>
<circle cx="523.4" cy="760.7" r="2.2" fill="none" stroke="#1c1c1c" stroke-width="0.8"/>
<circle cx="561.5" cy="771" r="2.2" fill="none" stroke="#1c1c1c" stroke-width="0.8"/>
<circle cx="561.5" cy="775.2" r="2.2" fill="none" stroke="#1c1c1c" stroke-width="0.8"/>
<circle cx="561.5" cy="780.3" r="2.2" fill="none" stroke="#1c1c1c" stroke-width="0.8"/>
<circle cx="561.5" cy="785.1" r="2.2" fill="none" stroke="#1c1c1c" stroke-width="0.8"/>
<circle cx="559.1" cy="790.3" r="2.2" fill="none" stroke="#1c1c1c" stroke-width="0.8"/>
<circle cx="564.2" cy="792.8" r="2.2" fill="none" stroke="#1c1c1c" stroke-width="0.8"/>
<circle cx="561.6" cy="818.5" r="2.2" fill="none" stroke="#1c1c1c" stroke-width="0.8"/>
<circle cx="561.6" cy="826.6" r="2.2" fill="none" stroke="#1c1c1c" stroke-width="0.8"/>
<circle cx="561.6" cy="832.2" r="2.2" fill="none" stroke="#1c1c1c" stroke-width="0.8"/>
<circle cx="561.6" cy="845" r="2.2" fill="none" stroke="#1c1c1c" stroke-width="0.8"/>
<circle cx="561.6" cy="861.9" r="2.2" fill="none" stroke="#1c1c1c" stroke-width="0.8"/>
<circle cx="598.3" cy="804.9" r="2.2" fill="none" stroke="#1c1c1c" stroke-width="0.8"/>
<circle cx="600.7" cy="804.9" r="2.2" fill="none" stroke="#1c1c1c" stroke-width="0.8"/>
<circle cx="599.4" cy="809.7" r="2.2" fill="none" stroke="#1c1c1c" stroke-width="0.8"/>
<circle cx="596.2" cy="818.5" r="2.2" fill="none" stroke="#1c1c1c" stroke-width="0.8"/>
<circle cx="599.1" cy="818.5" r="2.2" fill="none" stroke="#1c1c1c" stroke-width="0.8"/>
<circle cx="602.6" cy="816.1" r="2.2" fill="none" stroke="#1c1c1c" stroke-width="0.8"/>
<circle cx="599.4" cy="826.6" r="2.2" fill="none" stroke="#1c1c1c" stroke-width="0.8"/>
<circle cx="599.4" cy="858.4" r="2.2" fill="none" stroke="#1c1c1c" stroke-width="0.8"/>
<circle cx="602.6" cy="859" r="2.2" fill="none" stroke="#1c1c1c" stroke-width="0.8"/>
<circle cx="596.2" cy="861.9" r="2.2" fill="none" stroke="#1c1c1c" stroke-width="0.8"/>
<circle cx="637.3" cy="785.6" r="2.2" fill="none" stroke="#1c1c1c" stroke-width="0.8"/>
<circle cx="637.3" cy="790.1" r="2.2" fill="none" stroke="#1c1c1c" stroke-width="0.8"/>
<circle cx="637.3" cy="800.6" r="2.2" fill="none" stroke="#1c1c1c" stroke-width="0.8"/>
<circle cx="637.3" cy="819.4" r="2.2" fill="none" stroke="#1c1c1c" stroke-width="0.8"/>
<circle cx="637.3" cy="825.1" r="2.2" fill="none" stroke="#1c1c1c" stroke-width="0.8"/>
<circle cx="637.3" cy="832" r="2.2" fill="none" stroke="#1c1c1c" stroke-width="0.8"/>
<circle cx="637.3" cy="845.1" r="2.2" fill="none" stroke="#1c1c1c" stroke-width="0.8"/>
<circle cx="634.5" cy="860" r="2.2" fill="none" stroke="#1c1c1c" stroke-width="0.8"/>
<circle cx="637.3" cy="858.5" r="2.2" fill="none" stroke="#1c1c1c" stroke-width="0.8"/>
<circle cx="640" cy="859" r="2.2" fill="none" stroke="#1c1c1c" stroke-width="0.8"/>
<circle cx="636" cy="862" r="2.2" fill="none" stroke="#1c1c1c" stroke-width="0.8"/>
<circle cx="675.3" cy="805" r="2.2" fill="none" stroke="#1c1c1c" stroke-width="0.8"/>
<circle cx="675.3" cy="825.2" r="2.2" fill="none" stroke="#1c1c1c" stroke-width="0.8"/>
<circle cx="675.3" cy="837.3" r="2.2" fill="none" stroke="#1c1c1c" stroke-width="0.8"/>
<circle cx="672.3" cy="845.2" r="2.2" fill="none" stroke="#1c1c1c" stroke-width="0.8"/>
<circle cx="675.3" cy="845.2" r="2.2" fill="none" stroke="#1c1c1c" stroke-width="0.8"/>
<circle cx="678.3" cy="845.2" r="2.2" fill="none" stroke="#1c1c1c" stroke-width="0.8"/>
<circle cx="672.3" cy="862" r="2.2" fill="none" stroke="#1c1c1c" stroke-width="0.8"/>
<circle cx="675.3" cy="862" r="2.2" fill="none" stroke="#1c1c1c" stroke-width="0.8"/>
<circle cx="678.3" cy="862" r="2.2" fill="none" stroke="#1c1c1c" stroke-width="0.8"/>
<line x1="503.6" y1="735.3" x2="526.6" y2="735.3" stroke="#555" stroke-width="0.8"/>
<text x="0" y="0" font-size="5.95" text-anchor="middle" transform="translate(515.1 732) scale(1 1.08)">p=0.0029</text>
<line x1="543.3" y1="766.2" x2="566.3" y2="766.2" stroke="#555" stroke-width="0.8"/>
<text x="0" y="0" font-size="5.95" text-anchor="middle" transform="translate(554.8 762.9) scale(1 1.08)">p=0.0034</text>
<line x1="581.1" y1="800.1" x2="603.9" y2="800.1" stroke="#555" stroke-width="0.8"/>
<text x="0" y="0" font-size="5.95" text-anchor="middle" transform="translate(592.5 796.8) scale(1 1.08)">p=0.1149</text>
<line x1="616.8" y1="780.2" x2="640.6" y2="780.2" stroke="#555" stroke-width="0.8"/>
<text x="0" y="0" font-size="5.95" text-anchor="middle" transform="translate(628.7 776.9) scale(1 1.08)">p=0.1962</text>
<line x1="657.5" y1="792.1" x2="681.2" y2="792.1" stroke="#555" stroke-width="0.8"/>
<text x="0" y="0" font-size="5.95" text-anchor="middle" transform="translate(669.35 788.8) scale(1 1.08)">p=0.5372</text>
<text x="13.2" y="496.6" font-size="16" font-weight="bold" fill="#444">g</text>
<text x="300.8" y="497.9" font-size="16" font-weight="bold" fill="#444">h</text>
<text x="-0.9" y="706.4" font-size="16" font-weight="bold" fill="#444">i</text>
<text x="239.6" y="706.6" font-size="16" font-weight="bold" fill="#444">j</text>
<text x="467.2" y="706.8" font-size="16" font-weight="bold" fill="#444">k</text>
</g>
</svg>
</body></html>
